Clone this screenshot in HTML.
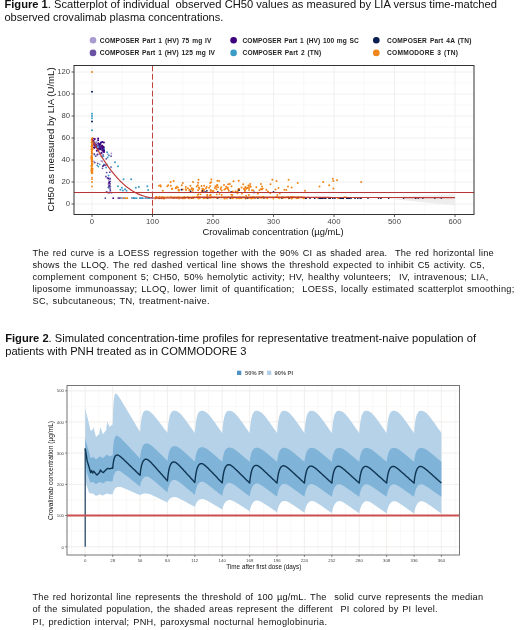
<!DOCTYPE html>
<html lang="en">
<head>
<meta charset="utf-8">
<title>Figure 1 and Figure 2</title>
<style>
html,body{margin:0;padding:0;background:#fff;}
body{width:520px;height:630px;overflow:hidden;position:relative;font-family:"Liberation Sans",sans-serif;}
svg{position:absolute;left:0;top:0;display:block;filter:blur(0.35px);}
text{font-family:"Liberation Sans",sans-serif;}
.cap{font-size:9.2px;fill:#111;}
.ttl{font-size:10.4px;fill:#111;}
.tk{font-size:7.7px;fill:#444;}
.tk2{font-size:4.3px;fill:#444;}
.lg{font-size:6.6px;font-weight:bold;fill:#222;word-spacing:0.8px;}
</style>
</head>
<body>
<svg width="520" height="630" viewBox="0 0 520 630">
<rect x="0" y="0" width="520" height="630" fill="#ffffff"/>
<text class="ttl" x="4.4" y="8.4" textLength="492.6" lengthAdjust="spacingAndGlyphs" xml:space="preserve"><tspan font-weight="bold">Figure 1</tspan>. Scatterplot of individual  observed CH50 values as measured by LIA versus time-matched</text>
<text class="ttl" x="4.4" y="21.3" textLength="219" lengthAdjust="spacingAndGlyphs" xml:space="preserve">observed crovalimab plasma concentrations.</text>
<g id="plot1">
<rect x="74" y="65.5" width="400" height="149" fill="#fff"/>
<line x1="122.2" x2="122.2" y1="65.5" y2="214.5" stroke="#f1f1f1" stroke-width="0.5"/>
<line x1="182.8" x2="182.8" y1="65.5" y2="214.5" stroke="#f1f1f1" stroke-width="0.5"/>
<line x1="243.2" x2="243.2" y1="65.5" y2="214.5" stroke="#f1f1f1" stroke-width="0.5"/>
<line x1="303.8" x2="303.8" y1="65.5" y2="214.5" stroke="#f1f1f1" stroke-width="0.5"/>
<line x1="364.2" x2="364.2" y1="65.5" y2="214.5" stroke="#f1f1f1" stroke-width="0.5"/>
<line x1="424.8" x2="424.8" y1="65.5" y2="214.5" stroke="#f1f1f1" stroke-width="0.5"/>
<line x1="74" x2="474" y1="193" y2="193" stroke="#f1f1f1" stroke-width="0.5"/>
<line x1="74" x2="474" y1="171" y2="171" stroke="#f1f1f1" stroke-width="0.5"/>
<line x1="74" x2="474" y1="149" y2="149" stroke="#f1f1f1" stroke-width="0.5"/>
<line x1="74" x2="474" y1="127" y2="127" stroke="#f1f1f1" stroke-width="0.5"/>
<line x1="74" x2="474" y1="105" y2="105" stroke="#f1f1f1" stroke-width="0.5"/>
<line x1="74" x2="474" y1="83" y2="83" stroke="#f1f1f1" stroke-width="0.5"/>
<line x1="92" x2="92" y1="65.5" y2="214.5" stroke="#ececec" stroke-width="0.8"/>
<line x1="152.5" x2="152.5" y1="65.5" y2="214.5" stroke="#ececec" stroke-width="0.8"/>
<line x1="213" x2="213" y1="65.5" y2="214.5" stroke="#ececec" stroke-width="0.8"/>
<line x1="273.5" x2="273.5" y1="65.5" y2="214.5" stroke="#ececec" stroke-width="0.8"/>
<line x1="334" x2="334" y1="65.5" y2="214.5" stroke="#ececec" stroke-width="0.8"/>
<line x1="394.5" x2="394.5" y1="65.5" y2="214.5" stroke="#ececec" stroke-width="0.8"/>
<line x1="455" x2="455" y1="65.5" y2="214.5" stroke="#ececec" stroke-width="0.8"/>
<line x1="74" x2="474" y1="204" y2="204" stroke="#ececec" stroke-width="0.8"/>
<line x1="74" x2="474" y1="182" y2="182" stroke="#ececec" stroke-width="0.8"/>
<line x1="74" x2="474" y1="160" y2="160" stroke="#ececec" stroke-width="0.8"/>
<line x1="74" x2="474" y1="138" y2="138" stroke="#ececec" stroke-width="0.8"/>
<line x1="74" x2="474" y1="116" y2="116" stroke="#ececec" stroke-width="0.8"/>
<line x1="74" x2="474" y1="94" y2="94" stroke="#ececec" stroke-width="0.8"/>
<line x1="74" x2="474" y1="72" y2="72" stroke="#ececec" stroke-width="0.8"/>
<path d="M376.3 197.4 L455 194.3 L455 205.4 Z" fill="#eeeeee"/>
<circle cx="253.3" cy="190.5" r="1.0" fill="#f08519"/><circle cx="109" cy="186.1" r="0.9" fill="#3f007d"/><circle cx="241.1" cy="198.2" r="0.8" fill="#0b1f52"/><circle cx="91.6" cy="166.2" r="0.9" fill="#f08519"/><circle cx="308.1" cy="197.2" r="0.8" fill="#f08519"/><circle cx="170.8" cy="196.9" r="0.8" fill="#f08519"/><circle cx="298.5" cy="197.7" r="0.8" fill="#f08519"/><circle cx="92.2" cy="152.7" r="0.9" fill="#f08519"/><circle cx="218" cy="187.3" r="1.0" fill="#f08519"/><circle cx="343.2" cy="198.4" r="0.8" fill="#f08519"/><circle cx="251.3" cy="198.5" r="0.8" fill="#f08519"/><circle cx="111.2" cy="167.1" r="0.9" fill="#3a9cc4"/><circle cx="338.4" cy="198.2" r="0.85" fill="#0b1f52"/><circle cx="93.6" cy="138.7" r="1.0" fill="#3f007d"/><circle cx="193.4" cy="198.2" r="0.8" fill="#0b1f52"/><circle cx="266.3" cy="189.8" r="1.0" fill="#f08519"/><circle cx="348.8" cy="198.2" r="0.85" fill="#0b1f52"/><circle cx="103.8" cy="147.6" r="1.0" fill="#3f007d"/><circle cx="231.7" cy="196.9" r="0.8" fill="#f08519"/><circle cx="103.1" cy="148.4" r="1.0" fill="#6a51a3"/><circle cx="139.8" cy="198.2" r="0.85" fill="#a99bd0"/><circle cx="249" cy="188.1" r="1.0" fill="#f08519"/><circle cx="204.6" cy="197.4" r="0.8" fill="#f08519"/><circle cx="107.6" cy="157.5" r="0.9" fill="#3a9cc4"/><circle cx="248.7" cy="185.7" r="1.0" fill="#f08519"/><circle cx="422.9" cy="198.2" r="0.8" fill="#0b1f52"/><circle cx="232.4" cy="198.5" r="0.8" fill="#f08519"/><circle cx="267.9" cy="191.4" r="1.0" fill="#f08519"/><circle cx="110.8" cy="167.3" r="0.9" fill="#6a51a3"/><circle cx="103.9" cy="150.9" r="1.0" fill="#a99bd0"/><circle cx="270.5" cy="184.2" r="1.0" fill="#f08519"/><circle cx="273.2" cy="198.7" r="0.8" fill="#f08519"/><circle cx="107.4" cy="177.9" r="0.9" fill="#6a51a3"/><circle cx="103.3" cy="147.6" r="1.0" fill="#6a51a3"/><circle cx="250.2" cy="184" r="1.0" fill="#f08519"/><circle cx="226.1" cy="186.8" r="1.0" fill="#f08519"/><circle cx="92.1" cy="139.9" r="0.9" fill="#f08519"/><circle cx="225" cy="198.6" r="0.8" fill="#f08519"/><circle cx="242.8" cy="197.4" r="0.8" fill="#f08519"/><circle cx="96.8" cy="150.8" r="1.0" fill="#3f007d"/><circle cx="152.4" cy="198.2" r="0.85" fill="#3a9cc4"/><circle cx="140.8" cy="198.2" r="0.85" fill="#3a9cc4"/><circle cx="101.7" cy="145.4" r="1.0" fill="#6a51a3"/><circle cx="184.9" cy="198.4" r="0.8" fill="#f08519"/><circle cx="252" cy="190.3" r="1.0" fill="#f08519"/><circle cx="236.4" cy="198.4" r="0.8" fill="#f08519"/><circle cx="101.4" cy="156.7" r="0.9" fill="#a99bd0"/><circle cx="290.6" cy="197.1" r="0.8" fill="#f08519"/><circle cx="110.1" cy="183.9" r="0.9" fill="#6a51a3"/><circle cx="155.9" cy="197.1" r="0.8" fill="#f08519"/><circle cx="123.5" cy="179.2" r="1.0" fill="#3a9cc4"/><circle cx="330.1" cy="198.2" r="0.85" fill="#0b1f52"/><circle cx="291.6" cy="187.5" r="1.0" fill="#f08519"/><circle cx="224.1" cy="197.4" r="0.8" fill="#f08519"/><circle cx="237.7" cy="198.1" r="0.8" fill="#f08519"/><circle cx="357.8" cy="198.2" r="0.85" fill="#0b1f52"/><circle cx="98.1" cy="140.3" r="1.0" fill="#3f007d"/><circle cx="284.4" cy="189.7" r="1.0" fill="#f08519"/><circle cx="237.7" cy="191.3" r="1.0" fill="#f08519"/><circle cx="92" cy="130.3" r="1.0" fill="#3a9cc4"/><circle cx="232.4" cy="197.4" r="0.8" fill="#f08519"/><circle cx="92.5" cy="170" r="0.9" fill="#f08519"/><circle cx="380.9" cy="198.2" r="0.8" fill="#0b1f52"/><circle cx="251.9" cy="197.9" r="0.8" fill="#f08519"/><circle cx="102.5" cy="168.3" r="0.9" fill="#6a51a3"/><circle cx="216.2" cy="186.7" r="1.0" fill="#f08519"/><circle cx="107.1" cy="152.3" r="1.0" fill="#3a9cc4"/><circle cx="259" cy="197.1" r="0.8" fill="#f08519"/><circle cx="156.4" cy="197.1" r="0.8" fill="#f08519"/><circle cx="94.6" cy="142.4" r="1.0" fill="#6a51a3"/><circle cx="434.8" cy="198.2" r="0.8" fill="#0b1f52"/><circle cx="297.7" cy="183.1" r="1.0" fill="#f08519"/><circle cx="109.1" cy="186" r="0.9" fill="#6a51a3"/><circle cx="201.7" cy="190.9" r="1.0" fill="#f08519"/><circle cx="291.7" cy="198.6" r="0.8" fill="#f08519"/><circle cx="103.8" cy="150.1" r="1.0" fill="#3f007d"/><circle cx="113.2" cy="198.2" r="0.9" fill="#3f007d"/><circle cx="119.3" cy="198.2" r="0.85" fill="#f08519"/><circle cx="159.3" cy="198.5" r="0.8" fill="#f08519"/><circle cx="132.1" cy="198.2" r="0.85" fill="#3a9cc4"/><circle cx="259.5" cy="190.3" r="1.0" fill="#f08519"/><circle cx="179.2" cy="198.7" r="0.8" fill="#f08519"/><circle cx="92" cy="146" r="0.9" fill="#f08519"/><circle cx="378.6" cy="198.2" r="0.8" fill="#0b1f52"/><circle cx="232.3" cy="195" r="0.9" fill="#f08519"/><circle cx="91.7" cy="161.7" r="0.9" fill="#f08519"/><circle cx="337.8" cy="198.2" r="0.8" fill="#f08519"/><circle cx="220.6" cy="188.9" r="1.0" fill="#f08519"/><circle cx="225.4" cy="197.7" r="0.8" fill="#f08519"/><circle cx="189.2" cy="198.4" r="0.8" fill="#f08519"/><circle cx="233.2" cy="198.1" r="0.8" fill="#f08519"/><circle cx="256.3" cy="187.2" r="1.0" fill="#f08519"/><circle cx="91.8" cy="172.4" r="0.9" fill="#f08519"/><circle cx="200" cy="197.9" r="0.8" fill="#f08519"/><circle cx="242" cy="193.7" r="0.9" fill="#f08519"/><circle cx="159" cy="185.8" r="1.0" fill="#f08519"/><circle cx="102" cy="150.6" r="1.0" fill="#6a51a3"/><circle cx="103.8" cy="165.3" r="0.9" fill="#3f007d"/><circle cx="104" cy="164.3" r="0.9" fill="#3a9cc4"/><circle cx="181.8" cy="185.3" r="1.0" fill="#f08519"/><circle cx="135.8" cy="187.7" r="1.0" fill="#3a9cc4"/><circle cx="93.4" cy="140.7" r="1.0" fill="#a99bd0"/><circle cx="388.7" cy="198.2" r="0.8" fill="#0b1f52"/><circle cx="103" cy="151.7" r="1.0" fill="#6a51a3"/><circle cx="92" cy="151.9" r="0.9" fill="#f08519"/><circle cx="103.4" cy="147.2" r="1.0" fill="#3f007d"/><circle cx="333.4" cy="180.9" r="1.0" fill="#f08519"/><circle cx="246.1" cy="195.6" r="0.9" fill="#f08519"/><circle cx="192.7" cy="190.8" r="1.0" fill="#f08519"/><circle cx="217.8" cy="191.9" r="0.9" fill="#0b1f52"/><circle cx="256.6" cy="197.4" r="0.8" fill="#f08519"/><circle cx="263.9" cy="198.2" r="0.8" fill="#0b1f52"/><circle cx="102.4" cy="152.7" r="1.0" fill="#a99bd0"/><circle cx="207.4" cy="195.5" r="0.9" fill="#f08519"/><circle cx="92.4" cy="140" r="0.9" fill="#f08519"/><circle cx="109.9" cy="188.4" r="0.9" fill="#6a51a3"/><circle cx="92" cy="72" r="1.0" fill="#f08519"/><circle cx="185.2" cy="197.8" r="0.8" fill="#f08519"/><circle cx="91.6" cy="170" r="0.9" fill="#f08519"/><circle cx="101.2" cy="149.7" r="1.0" fill="#6a51a3"/><circle cx="93.9" cy="145.1" r="1.0" fill="#3f007d"/><circle cx="260.9" cy="184" r="1.0" fill="#f08519"/><circle cx="151.8" cy="198.2" r="0.85" fill="#3a9cc4"/><circle cx="233.5" cy="181.3" r="1.0" fill="#f08519"/><circle cx="325.7" cy="198.2" r="0.85" fill="#0b1f52"/><circle cx="368" cy="198.2" r="0.8" fill="#0b1f52"/><circle cx="239.7" cy="198.1" r="0.8" fill="#f08519"/><circle cx="249.6" cy="197.8" r="0.8" fill="#f08519"/><circle cx="92.2" cy="172.3" r="0.9" fill="#f08519"/><circle cx="151.7" cy="198.2" r="0.85" fill="#3a9cc4"/><circle cx="298.2" cy="196.8" r="0.8" fill="#f08519"/><circle cx="91.5" cy="171" r="0.9" fill="#f08519"/><circle cx="227.4" cy="188.1" r="1.0" fill="#f08519"/><circle cx="248" cy="198.4" r="0.8" fill="#f08519"/><circle cx="108.9" cy="155.6" r="1.0" fill="#3a9cc4"/><circle cx="217.3" cy="185.1" r="1.0" fill="#f08519"/><circle cx="296.4" cy="198.2" r="0.8" fill="#f08519"/><circle cx="91.6" cy="156.6" r="0.9" fill="#f08519"/><circle cx="109.3" cy="182" r="0.9" fill="#3f007d"/><circle cx="184" cy="197.9" r="0.8" fill="#f08519"/><circle cx="92" cy="113.8" r="1.0" fill="#3a9cc4"/><circle cx="91.6" cy="146.3" r="0.9" fill="#f08519"/><circle cx="328.8" cy="198.3" r="0.8" fill="#f08519"/><circle cx="283" cy="197.9" r="0.8" fill="#f08519"/><circle cx="146.3" cy="198.2" r="0.85" fill="#3a9cc4"/><circle cx="162.2" cy="197.5" r="0.8" fill="#f08519"/><circle cx="293.2" cy="196.8" r="0.8" fill="#f08519"/><circle cx="93.5" cy="142.9" r="1.0" fill="#6a51a3"/><circle cx="121.4" cy="198.2" r="0.85" fill="#a99bd0"/><circle cx="92" cy="182" r="0.9" fill="#f08519"/><circle cx="92.2" cy="171.7" r="0.9" fill="#f08519"/><circle cx="295.7" cy="197.2" r="0.8" fill="#f08519"/><circle cx="92" cy="91.8" r="1.0" fill="#0b1f52"/><circle cx="122.8" cy="198.2" r="0.85" fill="#a99bd0"/><circle cx="262.2" cy="196.8" r="0.8" fill="#f08519"/><circle cx="229.9" cy="183.9" r="1.0" fill="#f08519"/><circle cx="94" cy="140.1" r="1.0" fill="#a99bd0"/><circle cx="108.5" cy="183.9" r="0.9" fill="#6a51a3"/><circle cx="174.5" cy="198" r="0.8" fill="#f08519"/><circle cx="294.2" cy="197" r="0.8" fill="#f08519"/><circle cx="340.3" cy="198.2" r="0.85" fill="#0b1f52"/><circle cx="119.5" cy="198.2" r="0.85" fill="#3a9cc4"/><circle cx="96.4" cy="143.1" r="1.0" fill="#6a51a3"/><circle cx="91.5" cy="155.9" r="0.9" fill="#f08519"/><circle cx="92" cy="142.5" r="0.9" fill="#f08519"/><circle cx="93.9" cy="161.4" r="0.9" fill="#a99bd0"/><circle cx="109.6" cy="186.2" r="0.9" fill="#3f007d"/><circle cx="205.1" cy="191.9" r="0.9" fill="#0b1f52"/><circle cx="106.1" cy="167.6" r="0.9" fill="#3a9cc4"/><circle cx="167.3" cy="186.2" r="1.0" fill="#f08519"/><circle cx="238.4" cy="189.4" r="1.0" fill="#f08519"/><circle cx="110.3" cy="189.9" r="0.9" fill="#3f007d"/><circle cx="102.9" cy="166.1" r="0.9" fill="#3f007d"/><circle cx="191.5" cy="198.3" r="0.8" fill="#f08519"/><circle cx="92.1" cy="172" r="0.9" fill="#f08519"/><circle cx="151.7" cy="198.2" r="0.85" fill="#3a9cc4"/><circle cx="198.5" cy="194.1" r="0.9" fill="#f08519"/><circle cx="288.6" cy="179.8" r="1.0" fill="#f08519"/><circle cx="97.5" cy="154.6" r="1.0" fill="#3f007d"/><circle cx="193" cy="182" r="1.0" fill="#f08519"/><circle cx="102.1" cy="146.3" r="1.0" fill="#3f007d"/><circle cx="200.6" cy="194.3" r="0.9" fill="#f08519"/><circle cx="103.9" cy="142.5" r="1.0" fill="#3f007d"/><circle cx="94.4" cy="154.7" r="0.9" fill="#3a9cc4"/><circle cx="92.1" cy="164.8" r="0.9" fill="#f08519"/><circle cx="283.6" cy="197.7" r="0.8" fill="#f08519"/><circle cx="241.6" cy="187.6" r="1.0" fill="#f08519"/><circle cx="107.9" cy="154.1" r="0.9" fill="#a99bd0"/><circle cx="161.6" cy="197.2" r="0.8" fill="#f08519"/><circle cx="206.7" cy="198.5" r="0.8" fill="#f08519"/><circle cx="281.1" cy="197.7" r="0.8" fill="#f08519"/><circle cx="193.1" cy="198.3" r="0.8" fill="#f08519"/><circle cx="97.2" cy="147.4" r="1.0" fill="#a99bd0"/><circle cx="289.1" cy="198.1" r="0.8" fill="#f08519"/><circle cx="207.2" cy="194.7" r="0.9" fill="#f08519"/><circle cx="102.3" cy="141.9" r="1.0" fill="#3f007d"/><circle cx="101.1" cy="142.4" r="1.0" fill="#3a9cc4"/><circle cx="119.7" cy="198.2" r="0.85" fill="#f08519"/><circle cx="221.2" cy="187.2" r="1.0" fill="#f08519"/><circle cx="214.9" cy="188.1" r="1.0" fill="#f08519"/><circle cx="347.9" cy="198.2" r="0.85" fill="#0b1f52"/><circle cx="330.8" cy="197.5" r="0.8" fill="#f08519"/><circle cx="100.2" cy="144" r="1.0" fill="#3f007d"/><circle cx="91.9" cy="169.8" r="0.9" fill="#f08519"/><circle cx="286.8" cy="197.2" r="0.8" fill="#f08519"/><circle cx="170.8" cy="185.8" r="1.0" fill="#f08519"/><circle cx="250.7" cy="186.7" r="1.0" fill="#f08519"/><circle cx="227" cy="198.7" r="0.8" fill="#f08519"/><circle cx="124.7" cy="198.2" r="0.85" fill="#3a9cc4"/><circle cx="202.8" cy="191.2" r="1.0" fill="#f08519"/><circle cx="118" cy="186.2" r="1.0" fill="#3a9cc4"/><circle cx="162.8" cy="197.1" r="0.8" fill="#f08519"/><circle cx="277.4" cy="194.9" r="0.9" fill="#f08519"/><circle cx="241.5" cy="197.5" r="0.8" fill="#f08519"/><circle cx="110.3" cy="181.3" r="0.9" fill="#6a51a3"/><circle cx="259.2" cy="197.7" r="0.8" fill="#f08519"/><circle cx="243.2" cy="184.2" r="1.0" fill="#f08519"/><circle cx="92.3" cy="147.4" r="0.9" fill="#f08519"/><circle cx="329.9" cy="198.2" r="0.85" fill="#0b1f52"/><circle cx="262" cy="186.6" r="1.0" fill="#f08519"/><circle cx="118.2" cy="198.2" r="0.85" fill="#a99bd0"/><circle cx="346.7" cy="198.2" r="0.85" fill="#0b1f52"/><circle cx="210.1" cy="186.1" r="1.0" fill="#f08519"/><circle cx="92.2" cy="138.3" r="0.9" fill="#f08519"/><circle cx="380.8" cy="198.2" r="0.8" fill="#0b1f52"/><circle cx="251.6" cy="198" r="0.8" fill="#f08519"/><circle cx="121.9" cy="187.7" r="1.0" fill="#3a9cc4"/><circle cx="205.9" cy="188.6" r="1.0" fill="#f08519"/><circle cx="301.6" cy="197.3" r="0.8" fill="#f08519"/><circle cx="103.9" cy="147.6" r="1.0" fill="#6a51a3"/><circle cx="121.8" cy="198.2" r="0.85" fill="#6a51a3"/><circle cx="418.3" cy="198.2" r="0.8" fill="#0b1f52"/><circle cx="201.5" cy="186.1" r="1.0" fill="#f08519"/><circle cx="91.9" cy="159.8" r="0.9" fill="#f08519"/><circle cx="275.5" cy="189.6" r="1.0" fill="#f08519"/><circle cx="91.6" cy="161.1" r="0.9" fill="#f08519"/><circle cx="98.4" cy="143.5" r="1.0" fill="#3f007d"/><circle cx="286.3" cy="190.1" r="1.0" fill="#f08519"/><circle cx="210.7" cy="190.9" r="1.0" fill="#f08519"/><circle cx="189.2" cy="190.3" r="1.0" fill="#f08519"/><circle cx="91.5" cy="168.8" r="0.9" fill="#f08519"/><circle cx="199.3" cy="188.7" r="1.0" fill="#f08519"/><circle cx="123.4" cy="198.2" r="0.85" fill="#f08519"/><circle cx="106.2" cy="176.5" r="0.9" fill="#a99bd0"/><circle cx="151.1" cy="198.2" r="0.85" fill="#a99bd0"/><circle cx="170.7" cy="182.1" r="1.0" fill="#f08519"/><circle cx="249.1" cy="190" r="1.0" fill="#f08519"/><circle cx="110.2" cy="192.1" r="0.9" fill="#6a51a3"/><circle cx="198.8" cy="196.9" r="0.8" fill="#f08519"/><circle cx="178.9" cy="190.3" r="1.0" fill="#f08519"/><circle cx="221.7" cy="194.9" r="0.9" fill="#f08519"/><circle cx="238.9" cy="198.5" r="0.8" fill="#f08519"/><circle cx="176.7" cy="186.8" r="1.0" fill="#f08519"/><circle cx="145.2" cy="198.2" r="0.85" fill="#3a9cc4"/><circle cx="122.9" cy="190.6" r="1.0" fill="#3a9cc4"/><circle cx="92" cy="173.3" r="0.9" fill="#f08519"/><circle cx="92.4" cy="146" r="0.9" fill="#f08519"/><circle cx="238.8" cy="180.7" r="1.0" fill="#f08519"/><circle cx="109.5" cy="178.8" r="0.9" fill="#a99bd0"/><circle cx="230.8" cy="198.4" r="0.8" fill="#f08519"/><circle cx="241.9" cy="197.7" r="0.8" fill="#f08519"/><circle cx="126.5" cy="190.8" r="1.0" fill="#3a9cc4"/><circle cx="213.5" cy="190.9" r="1.0" fill="#f08519"/><circle cx="92.3" cy="138.5" r="0.9" fill="#f08519"/><circle cx="95.4" cy="145.7" r="1.0" fill="#3f007d"/><circle cx="104" cy="152" r="1.0" fill="#3f007d"/><circle cx="98.1" cy="147.5" r="1.0" fill="#6a51a3"/><circle cx="183.8" cy="198.4" r="0.8" fill="#f08519"/><circle cx="272.3" cy="179.8" r="1.0" fill="#f08519"/><circle cx="247.2" cy="187.9" r="1.0" fill="#f08519"/><circle cx="108.4" cy="178.5" r="0.9" fill="#3f007d"/><circle cx="108.6" cy="175.5" r="0.9" fill="#3a9cc4"/><circle cx="98" cy="145.2" r="1.0" fill="#6a51a3"/><circle cx="202.3" cy="188.7" r="1.0" fill="#f08519"/><circle cx="109.2" cy="192.4" r="0.9" fill="#a99bd0"/><circle cx="303.5" cy="198.4" r="0.8" fill="#f08519"/><circle cx="279.1" cy="198.4" r="0.8" fill="#f08519"/><circle cx="228.8" cy="190.8" r="1.0" fill="#f08519"/><circle cx="216.6" cy="198.1" r="0.8" fill="#f08519"/><circle cx="264.2" cy="197.5" r="0.8" fill="#f08519"/><circle cx="348.1" cy="198.2" r="0.85" fill="#0b1f52"/><circle cx="191.8" cy="189.1" r="1.0" fill="#f08519"/><circle cx="99.7" cy="164.3" r="0.9" fill="#3a9cc4"/><circle cx="192" cy="198.2" r="0.8" fill="#0b1f52"/><circle cx="254.1" cy="192.4" r="0.9" fill="#0b1f52"/><circle cx="343.3" cy="198.2" r="0.85" fill="#0b1f52"/><circle cx="142.8" cy="198.2" r="0.85" fill="#a99bd0"/><circle cx="186" cy="190" r="1.0" fill="#f08519"/><circle cx="163.6" cy="198.7" r="0.8" fill="#f08519"/><circle cx="91.9" cy="150" r="0.9" fill="#f08519"/><circle cx="283.3" cy="197.2" r="0.8" fill="#f08519"/><circle cx="258" cy="193.1" r="0.9" fill="#f08519"/><circle cx="179.1" cy="197.4" r="0.8" fill="#f08519"/><circle cx="296.5" cy="198.5" r="0.8" fill="#f08519"/><circle cx="92.4" cy="138.3" r="0.9" fill="#f08519"/><circle cx="156.7" cy="197.2" r="0.8" fill="#f08519"/><circle cx="91.5" cy="157.5" r="0.9" fill="#f08519"/><circle cx="97.5" cy="146.9" r="1.0" fill="#6a51a3"/><circle cx="163.9" cy="198.4" r="0.8" fill="#f08519"/><circle cx="291.5" cy="197.2" r="0.8" fill="#f08519"/><circle cx="92" cy="118.2" r="1.0" fill="#3a9cc4"/><circle cx="231.2" cy="191.9" r="0.9" fill="#0b1f52"/><circle cx="177.9" cy="197" r="0.8" fill="#f08519"/><circle cx="91.5" cy="170.6" r="0.9" fill="#f08519"/><circle cx="98.7" cy="144.5" r="1.0" fill="#6a51a3"/><circle cx="142.7" cy="198.2" r="0.85" fill="#3a9cc4"/><circle cx="298" cy="198.2" r="0.8" fill="#0b1f52"/><circle cx="289.1" cy="198.2" r="0.8" fill="#f08519"/><circle cx="138.8" cy="186.9" r="1.0" fill="#3a9cc4"/><circle cx="219.5" cy="194.1" r="0.9" fill="#f08519"/><circle cx="91.7" cy="168.4" r="0.9" fill="#f08519"/><circle cx="95.7" cy="156.2" r="0.9" fill="#6a51a3"/><circle cx="216.5" cy="189.2" r="1.0" fill="#f08519"/><circle cx="244.8" cy="190.9" r="1.0" fill="#f08519"/><circle cx="100.1" cy="147" r="1.0" fill="#3f007d"/><circle cx="131.1" cy="179.2" r="1.0" fill="#3a9cc4"/><circle cx="234.7" cy="197.4" r="0.8" fill="#f08519"/><circle cx="109.9" cy="178.4" r="0.9" fill="#6a51a3"/><circle cx="151.8" cy="198.2" r="0.85" fill="#a99bd0"/><circle cx="206.7" cy="186.9" r="1.0" fill="#f08519"/><circle cx="96.7" cy="143.8" r="1.0" fill="#a99bd0"/><circle cx="93.5" cy="144.2" r="1.0" fill="#a99bd0"/><circle cx="92" cy="161" r="0.9" fill="#f08519"/><circle cx="100.8" cy="148.6" r="1.0" fill="#3f007d"/><circle cx="91.8" cy="164.7" r="0.9" fill="#f08519"/><circle cx="174.3" cy="197.2" r="0.8" fill="#f08519"/><circle cx="91.5" cy="150" r="0.9" fill="#f08519"/><circle cx="147.3" cy="186.2" r="1.0" fill="#3a9cc4"/><circle cx="110.7" cy="167.2" r="0.9" fill="#a99bd0"/><circle cx="235.6" cy="191.8" r="1.0" fill="#f08519"/><circle cx="92.2" cy="163.8" r="0.9" fill="#f08519"/><circle cx="209.1" cy="187.8" r="1.0" fill="#f08519"/><circle cx="333.4" cy="188.6" r="1.0" fill="#f08519"/><circle cx="92.4" cy="162.9" r="0.9" fill="#f08519"/><circle cx="96.9" cy="143.8" r="1.0" fill="#a99bd0"/><circle cx="232.3" cy="197.7" r="0.8" fill="#f08519"/><circle cx="292.1" cy="198.3" r="0.8" fill="#f08519"/><circle cx="91.7" cy="155.5" r="0.9" fill="#f08519"/><circle cx="101.3" cy="146.6" r="1.0" fill="#3f007d"/><circle cx="250.4" cy="198.2" r="0.8" fill="#f08519"/><circle cx="217.4" cy="180.8" r="1.0" fill="#f08519"/><circle cx="159" cy="198.4" r="0.8" fill="#f08519"/><circle cx="110.3" cy="186.4" r="0.9" fill="#6a51a3"/><circle cx="92" cy="179.2" r="0.9" fill="#f08519"/><circle cx="103.1" cy="155" r="0.9" fill="#6a51a3"/><circle cx="349.1" cy="198.2" r="0.85" fill="#0b1f52"/><circle cx="239.2" cy="188.9" r="1.0" fill="#f08519"/><circle cx="92.1" cy="142.2" r="0.9" fill="#f08519"/><circle cx="230.2" cy="198.2" r="0.8" fill="#0b1f52"/><circle cx="198.1" cy="182.8" r="1.0" fill="#f08519"/><circle cx="304.1" cy="197.3" r="0.8" fill="#f08519"/><circle cx="96.2" cy="144.7" r="1.0" fill="#3f007d"/><circle cx="99.3" cy="148.5" r="1.0" fill="#6a51a3"/><circle cx="319.1" cy="198.2" r="0.85" fill="#0b1f52"/><circle cx="287.6" cy="197.2" r="0.8" fill="#f08519"/><circle cx="238.7" cy="188.9" r="1.0" fill="#f08519"/><circle cx="178.9" cy="190.6" r="1.0" fill="#f08519"/><circle cx="266.1" cy="197.8" r="0.8" fill="#f08519"/><circle cx="219.1" cy="180.9" r="1.0" fill="#f08519"/><circle cx="120.4" cy="189.7" r="1.0" fill="#3a9cc4"/><circle cx="107.7" cy="192.4" r="0.9" fill="#6a51a3"/><circle cx="278.8" cy="197.5" r="0.8" fill="#f08519"/><circle cx="119.3" cy="198.2" r="0.85" fill="#a99bd0"/><circle cx="172.3" cy="188.7" r="1.0" fill="#f08519"/><circle cx="91.9" cy="146.8" r="0.9" fill="#f08519"/><circle cx="243.8" cy="197.4" r="0.8" fill="#f08519"/><circle cx="91.6" cy="165.3" r="0.9" fill="#f08519"/><circle cx="97" cy="155.5" r="0.9" fill="#a99bd0"/><circle cx="245.4" cy="187.1" r="1.0" fill="#f08519"/><circle cx="205" cy="198.2" r="0.8" fill="#f08519"/><circle cx="100.5" cy="148.3" r="1.0" fill="#3f007d"/><circle cx="91.8" cy="153" r="0.9" fill="#f08519"/><circle cx="210.6" cy="194.7" r="0.9" fill="#f08519"/><circle cx="91.5" cy="142.6" r="0.9" fill="#f08519"/><circle cx="136.7" cy="198.2" r="0.85" fill="#3a9cc4"/><circle cx="441.3" cy="198.2" r="0.8" fill="#0b1f52"/><circle cx="108.3" cy="187.3" r="0.9" fill="#6a51a3"/><circle cx="92.5" cy="168.8" r="0.9" fill="#f08519"/><circle cx="322.4" cy="198.2" r="0.85" fill="#0b1f52"/><circle cx="232.7" cy="191.5" r="1.0" fill="#f08519"/><circle cx="102.8" cy="147.1" r="1.0" fill="#3f007d"/><circle cx="94.5" cy="147.8" r="1.0" fill="#3f007d"/><circle cx="340" cy="198.2" r="0.85" fill="#0b1f52"/><circle cx="257.7" cy="193.7" r="0.9" fill="#f08519"/><circle cx="337" cy="180.3" r="1.0" fill="#f08519"/><circle cx="125.6" cy="198.2" r="0.85" fill="#f08519"/><circle cx="206.8" cy="198.3" r="0.8" fill="#f08519"/><circle cx="91.5" cy="166.8" r="0.9" fill="#f08519"/><circle cx="91.8" cy="142.2" r="0.9" fill="#f08519"/><circle cx="92.5" cy="172.6" r="0.9" fill="#f08519"/><circle cx="173.7" cy="180.9" r="1.0" fill="#f08519"/><circle cx="111.1" cy="156.2" r="0.9" fill="#6a51a3"/><circle cx="97.5" cy="147.7" r="1.0" fill="#6a51a3"/><circle cx="95.9" cy="145.7" r="1.0" fill="#6a51a3"/><circle cx="304.4" cy="198.2" r="0.8" fill="#f08519"/><circle cx="151.9" cy="198.2" r="0.85" fill="#3a9cc4"/><circle cx="97.6" cy="149.4" r="1.0" fill="#6a51a3"/><circle cx="92" cy="138.8" r="0.9" fill="#f08519"/><circle cx="281.9" cy="197.8" r="0.8" fill="#f08519"/><circle cx="111.4" cy="192.7" r="0.9" fill="#6a51a3"/><circle cx="298.3" cy="198.3" r="0.8" fill="#f08519"/><circle cx="94.3" cy="154" r="0.9" fill="#6a51a3"/><circle cx="91.9" cy="153.7" r="0.9" fill="#f08519"/><circle cx="252.6" cy="197" r="0.8" fill="#f08519"/><circle cx="251" cy="197.6" r="0.8" fill="#f08519"/><circle cx="91.7" cy="153.4" r="0.9" fill="#f08519"/><circle cx="97.8" cy="150.6" r="1.0" fill="#6a51a3"/><circle cx="91.5" cy="139.8" r="0.9" fill="#f08519"/><circle cx="263.3" cy="197.5" r="0.8" fill="#f08519"/><circle cx="212.4" cy="190.9" r="1.0" fill="#f08519"/><circle cx="106.7" cy="172.6" r="0.9" fill="#6a51a3"/><circle cx="94" cy="144.2" r="1.0" fill="#3f007d"/><circle cx="119.6" cy="198.2" r="0.85" fill="#3a9cc4"/><circle cx="146.1" cy="198.2" r="0.85" fill="#3a9cc4"/><circle cx="282.8" cy="197.3" r="0.8" fill="#f08519"/><circle cx="211.5" cy="197" r="0.8" fill="#f08519"/><circle cx="182.7" cy="189.5" r="1.0" fill="#f08519"/><circle cx="210.8" cy="197.9" r="0.8" fill="#f08519"/><circle cx="92" cy="186.4" r="0.9" fill="#f08519"/><circle cx="214.6" cy="197.3" r="0.8" fill="#f08519"/><circle cx="92" cy="116" r="1.0" fill="#3a9cc4"/><circle cx="94.1" cy="143.6" r="1.0" fill="#a99bd0"/><circle cx="360.2" cy="198.2" r="0.85" fill="#0b1f52"/><circle cx="176.7" cy="198.1" r="0.8" fill="#f08519"/><circle cx="146.5" cy="198.2" r="0.85" fill="#a99bd0"/><circle cx="104.6" cy="165" r="0.9" fill="#6a51a3"/><circle cx="125" cy="189.3" r="1.0" fill="#3a9cc4"/><circle cx="213.3" cy="197.6" r="0.8" fill="#f08519"/><circle cx="109.8" cy="172.2" r="0.9" fill="#6a51a3"/><circle cx="314.7" cy="198.2" r="0.85" fill="#0b1f52"/><circle cx="197.6" cy="197.2" r="0.8" fill="#f08519"/><circle cx="111.3" cy="153.5" r="0.9" fill="#a99bd0"/><circle cx="338.5" cy="198.3" r="0.8" fill="#f08519"/><circle cx="109.2" cy="188.2" r="0.9" fill="#3a9cc4"/><circle cx="266.6" cy="197.9" r="0.8" fill="#f08519"/><circle cx="184.3" cy="196.8" r="0.8" fill="#f08519"/><circle cx="211.1" cy="182.3" r="1.0" fill="#f08519"/><circle cx="101.1" cy="142.4" r="1.0" fill="#3f007d"/><circle cx="215.5" cy="186.2" r="1.0" fill="#f08519"/><circle cx="120.2" cy="198.2" r="0.85" fill="#f08519"/><circle cx="91.5" cy="158" r="0.9" fill="#f08519"/><circle cx="323.1" cy="182" r="1.0" fill="#f08519"/><circle cx="108.9" cy="192.8" r="0.9" fill="#6a51a3"/><circle cx="102.2" cy="156.4" r="0.9" fill="#3a9cc4"/><circle cx="190.4" cy="185.8" r="1.0" fill="#f08519"/><circle cx="273.5" cy="191.9" r="0.9" fill="#0b1f52"/><circle cx="210" cy="195.6" r="0.9" fill="#f08519"/><circle cx="260.9" cy="197.8" r="0.8" fill="#f08519"/><circle cx="349.5" cy="198.2" r="0.85" fill="#0b1f52"/><circle cx="95.7" cy="144.3" r="1.0" fill="#6a51a3"/><circle cx="235.6" cy="191.4" r="1.0" fill="#f08519"/><circle cx="106.5" cy="191.9" r="0.9" fill="#6a51a3"/><circle cx="109.9" cy="186.8" r="0.9" fill="#6a51a3"/><circle cx="341.8" cy="198.2" r="0.85" fill="#0b1f52"/><circle cx="239" cy="190.2" r="0.9" fill="#0b1f52"/><circle cx="132" cy="198.2" r="0.85" fill="#3a9cc4"/><circle cx="103.1" cy="147.6" r="1.0" fill="#3f007d"/><circle cx="320.7" cy="198.4" r="0.8" fill="#f08519"/><circle cx="332.8" cy="198.2" r="0.85" fill="#0b1f52"/><circle cx="245" cy="190" r="1.0" fill="#f08519"/><circle cx="224" cy="185.1" r="1.0" fill="#f08519"/><circle cx="99.8" cy="145" r="1.0" fill="#3f007d"/><circle cx="101.3" cy="161" r="0.9" fill="#a99bd0"/><circle cx="415.5" cy="198.2" r="0.8" fill="#0b1f52"/><circle cx="291.1" cy="198.5" r="0.8" fill="#f08519"/><circle cx="122.1" cy="198.2" r="0.85" fill="#a99bd0"/><circle cx="120.7" cy="198.2" r="0.85" fill="#a99bd0"/><circle cx="91.9" cy="142.7" r="0.9" fill="#f08519"/><circle cx="121.2" cy="198.2" r="0.85" fill="#f08519"/><circle cx="94.4" cy="143" r="1.0" fill="#6a51a3"/><circle cx="104.1" cy="149" r="1.0" fill="#3a9cc4"/><circle cx="319.5" cy="186.4" r="1.0" fill="#f08519"/><circle cx="244" cy="189" r="1.0" fill="#f08519"/><circle cx="245.5" cy="198.7" r="0.8" fill="#f08519"/><circle cx="127.3" cy="198.2" r="0.85" fill="#f08519"/><circle cx="257.9" cy="198.2" r="0.8" fill="#0b1f52"/><circle cx="253.9" cy="197" r="0.8" fill="#f08519"/><circle cx="227.7" cy="187.4" r="1.0" fill="#f08519"/><circle cx="102.8" cy="148.9" r="1.0" fill="#3f007d"/><circle cx="92.4" cy="168.4" r="0.9" fill="#f08519"/><circle cx="121.1" cy="198.2" r="0.85" fill="#3a9cc4"/><circle cx="216.7" cy="194.3" r="0.9" fill="#f08519"/><circle cx="270.3" cy="193.3" r="0.9" fill="#f08519"/><circle cx="192.2" cy="198.3" r="0.8" fill="#f08519"/><circle cx="92" cy="156.7" r="0.9" fill="#f08519"/><circle cx="185.6" cy="189.2" r="1.0" fill="#f08519"/><circle cx="320.1" cy="198.2" r="0.85" fill="#0b1f52"/><circle cx="305.9" cy="198.2" r="0.85" fill="#0b1f52"/><circle cx="224.4" cy="189.4" r="1.0" fill="#f08519"/><circle cx="279.8" cy="193.4" r="0.9" fill="#f08519"/><circle cx="178.4" cy="189.9" r="1.0" fill="#f08519"/><circle cx="204.1" cy="185.7" r="1.0" fill="#f08519"/><circle cx="261.5" cy="198" r="0.8" fill="#f08519"/><circle cx="159.4" cy="196.8" r="0.8" fill="#f08519"/><circle cx="92.4" cy="149" r="0.9" fill="#f08519"/><circle cx="109.8" cy="183.6" r="0.9" fill="#6a51a3"/><circle cx="103.8" cy="150.9" r="1.0" fill="#3f007d"/><circle cx="101.6" cy="147.5" r="1.0" fill="#6a51a3"/><circle cx="245.8" cy="198.2" r="0.8" fill="#0b1f52"/><circle cx="91.8" cy="168.8" r="0.9" fill="#f08519"/><circle cx="175.7" cy="188.2" r="1.0" fill="#f08519"/><circle cx="96.5" cy="141.8" r="1.0" fill="#a99bd0"/><circle cx="108.8" cy="180.1" r="0.9" fill="#a99bd0"/><circle cx="324" cy="198.3" r="0.8" fill="#f08519"/><circle cx="212.9" cy="197.5" r="0.8" fill="#f08519"/><circle cx="231.2" cy="194.6" r="0.9" fill="#f08519"/><circle cx="289" cy="198.6" r="0.8" fill="#f08519"/><circle cx="151.3" cy="198.2" r="0.85" fill="#a99bd0"/><circle cx="94.9" cy="162.6" r="0.9" fill="#6a51a3"/><circle cx="320.4" cy="198.2" r="0.85" fill="#0b1f52"/><circle cx="103.5" cy="156.3" r="0.9" fill="#3a9cc4"/><circle cx="281.8" cy="197.4" r="0.8" fill="#f08519"/><circle cx="247.5" cy="198.2" r="0.8" fill="#0b1f52"/><circle cx="193.2" cy="188.9" r="1.0" fill="#f08519"/><circle cx="298.3" cy="198.2" r="0.8" fill="#f08519"/><circle cx="93.4" cy="141" r="1.0" fill="#3f007d"/><circle cx="251.3" cy="198.6" r="0.8" fill="#f08519"/><circle cx="189.7" cy="189.7" r="1.0" fill="#f08519"/><circle cx="164.5" cy="198.6" r="0.8" fill="#f08519"/><circle cx="118.4" cy="198.2" r="0.85" fill="#6a51a3"/><circle cx="331.4" cy="197.5" r="0.8" fill="#f08519"/><circle cx="321.6" cy="198.2" r="0.85" fill="#0b1f52"/><circle cx="317.4" cy="197.9" r="0.8" fill="#f08519"/><circle cx="332.8" cy="178.7" r="1.0" fill="#f08519"/><circle cx="288" cy="186.4" r="1.0" fill="#f08519"/><circle cx="233.1" cy="197.7" r="0.8" fill="#f08519"/><circle cx="203.3" cy="189.6" r="1.0" fill="#f08519"/><circle cx="98.2" cy="148.2" r="1.0" fill="#3f007d"/><circle cx="262" cy="189.4" r="1.0" fill="#f08519"/><circle cx="190.6" cy="191.3" r="0.9" fill="#0b1f52"/><circle cx="167.5" cy="197.2" r="0.8" fill="#f08519"/><circle cx="96.1" cy="143.8" r="1.0" fill="#3f007d"/><circle cx="182.8" cy="183.1" r="1.0" fill="#f08519"/><circle cx="210.4" cy="195.3" r="0.9" fill="#f08519"/><circle cx="192.1" cy="188.5" r="1.0" fill="#f08519"/><circle cx="141.7" cy="198.2" r="0.85" fill="#3a9cc4"/><circle cx="188.8" cy="198.4" r="0.8" fill="#f08519"/><circle cx="288.8" cy="197.5" r="0.8" fill="#f08519"/><circle cx="98.9" cy="146.6" r="1.0" fill="#3f007d"/><circle cx="148.2" cy="198.2" r="0.85" fill="#3a9cc4"/><circle cx="139.9" cy="198.2" r="0.85" fill="#3a9cc4"/><circle cx="210.2" cy="183.1" r="1.0" fill="#f08519"/><circle cx="91.7" cy="161" r="0.9" fill="#f08519"/><circle cx="281.8" cy="198.2" r="0.8" fill="#0b1f52"/><circle cx="91.5" cy="171.9" r="0.9" fill="#f08519"/><circle cx="92.4" cy="163.8" r="0.9" fill="#f08519"/><circle cx="92.1" cy="157.7" r="0.9" fill="#f08519"/><circle cx="341" cy="198.2" r="0.85" fill="#0b1f52"/><circle cx="106.9" cy="164.3" r="0.9" fill="#3a9cc4"/><circle cx="276.5" cy="180.9" r="1.0" fill="#f08519"/><circle cx="289.1" cy="198.2" r="0.8" fill="#0b1f52"/><circle cx="134.5" cy="198.2" r="0.85" fill="#a99bd0"/><circle cx="92.4" cy="145" r="0.9" fill="#f08519"/><circle cx="101.3" cy="153.1" r="1.0" fill="#3f007d"/><circle cx="342.3" cy="198.2" r="0.85" fill="#0b1f52"/><circle cx="91.7" cy="156.7" r="0.9" fill="#f08519"/><circle cx="98.3" cy="166.6" r="0.9" fill="#3a9cc4"/><circle cx="329.2" cy="185.3" r="1.0" fill="#f08519"/><circle cx="148.1" cy="190" r="1.0" fill="#3a9cc4"/><circle cx="127.3" cy="198.2" r="0.85" fill="#f08519"/><circle cx="92.2" cy="158.8" r="0.9" fill="#f08519"/><circle cx="300" cy="197.5" r="0.8" fill="#f08519"/><circle cx="98.5" cy="143.4" r="1.0" fill="#3f007d"/><circle cx="239.6" cy="197.3" r="0.8" fill="#f08519"/><circle cx="110.1" cy="178.9" r="0.9" fill="#6a51a3"/><circle cx="92" cy="177.6" r="0.9" fill="#f08519"/><circle cx="103.1" cy="150.5" r="1.0" fill="#3f007d"/><circle cx="92.1" cy="159.9" r="0.9" fill="#f08519"/><circle cx="91.5" cy="158.6" r="0.9" fill="#f08519"/><circle cx="225.7" cy="188.7" r="1.0" fill="#f08519"/><circle cx="92.2" cy="160.8" r="0.9" fill="#f08519"/><circle cx="98.8" cy="148.7" r="1.0" fill="#3f007d"/><circle cx="193.1" cy="197.3" r="0.8" fill="#f08519"/><circle cx="168.2" cy="185.3" r="1.0" fill="#f08519"/><circle cx="155.1" cy="198.2" r="0.8" fill="#f08519"/><circle cx="94.1" cy="147.4" r="1.0" fill="#3f007d"/><circle cx="245" cy="197.8" r="0.8" fill="#f08519"/><circle cx="228.2" cy="189.3" r="1.0" fill="#f08519"/><circle cx="324" cy="198.2" r="0.85" fill="#0b1f52"/><circle cx="96.2" cy="143.2" r="1.0" fill="#a99bd0"/><circle cx="210.8" cy="190" r="1.0" fill="#f08519"/><circle cx="91.7" cy="153.2" r="0.9" fill="#f08519"/><circle cx="92.1" cy="168.9" r="0.9" fill="#f08519"/><circle cx="197.7" cy="194.9" r="0.9" fill="#f08519"/><circle cx="187.9" cy="188.2" r="1.0" fill="#f08519"/><circle cx="194.6" cy="197.2" r="0.8" fill="#f08519"/><circle cx="181.5" cy="189.7" r="0.9" fill="#0b1f52"/><circle cx="198.9" cy="198.7" r="0.8" fill="#f08519"/><circle cx="155.3" cy="198.7" r="0.8" fill="#f08519"/><circle cx="203.5" cy="198.5" r="0.8" fill="#f08519"/><circle cx="403.6" cy="198.2" r="0.8" fill="#0b1f52"/><circle cx="92.5" cy="149.2" r="0.9" fill="#f08519"/><circle cx="285.1" cy="197.8" r="0.8" fill="#f08519"/><circle cx="228.2" cy="196.8" r="0.8" fill="#f08519"/><circle cx="248.9" cy="195" r="0.9" fill="#f08519"/><circle cx="91.9" cy="163.4" r="0.9" fill="#f08519"/><circle cx="260.9" cy="189.1" r="1.0" fill="#f08519"/><circle cx="91.5" cy="148.8" r="0.9" fill="#f08519"/><circle cx="199.1" cy="198.2" r="0.8" fill="#f08519"/><circle cx="106.2" cy="158.8" r="0.9" fill="#6a51a3"/><circle cx="133.7" cy="198.2" r="0.85" fill="#3a9cc4"/><circle cx="105.6" cy="165.4" r="0.9" fill="#6a51a3"/><circle cx="241.4" cy="198.4" r="0.8" fill="#f08519"/><circle cx="134" cy="198.2" r="0.85" fill="#3a9cc4"/><circle cx="206.9" cy="190.8" r="0.9" fill="#0b1f52"/><circle cx="198.1" cy="190.2" r="1.0" fill="#f08519"/><circle cx="91.8" cy="144.7" r="0.9" fill="#f08519"/><circle cx="224.2" cy="198.7" r="0.8" fill="#f08519"/><circle cx="185.8" cy="186.9" r="1.0" fill="#f08519"/><circle cx="92.4" cy="164" r="0.9" fill="#f08519"/><circle cx="102.4" cy="145.7" r="1.0" fill="#3f007d"/><circle cx="98.1" cy="138.4" r="1.0" fill="#3f007d"/><circle cx="99.2" cy="149.6" r="1.0" fill="#6a51a3"/><circle cx="361.2" cy="182" r="1.0" fill="#f08519"/><circle cx="91.6" cy="170" r="0.9" fill="#f08519"/><circle cx="109.6" cy="189.3" r="0.9" fill="#a99bd0"/><circle cx="91.8" cy="166.2" r="0.9" fill="#f08519"/><circle cx="196.6" cy="197" r="0.8" fill="#f08519"/><circle cx="95" cy="143.9" r="1.0" fill="#6a51a3"/><circle cx="160.8" cy="186.6" r="1.0" fill="#f08519"/><circle cx="251.7" cy="198.1" r="0.8" fill="#f08519"/><circle cx="226.3" cy="197.7" r="0.8" fill="#f08519"/><circle cx="91.6" cy="151.3" r="0.9" fill="#f08519"/><circle cx="173" cy="197.9" r="0.8" fill="#f08519"/><circle cx="161.2" cy="198.6" r="0.8" fill="#f08519"/><circle cx="97.2" cy="165.3" r="0.9" fill="#3a9cc4"/><circle cx="91.8" cy="159.2" r="0.9" fill="#f08519"/><circle cx="254.7" cy="198.2" r="0.8" fill="#0b1f52"/><circle cx="97.9" cy="147" r="1.0" fill="#a99bd0"/><circle cx="135.1" cy="198.2" r="0.85" fill="#3a9cc4"/><circle cx="184.4" cy="198" r="0.8" fill="#f08519"/><circle cx="91.6" cy="165.9" r="0.9" fill="#f08519"/><circle cx="302.3" cy="197.5" r="0.8" fill="#f08519"/><circle cx="207.2" cy="196.9" r="0.8" fill="#f08519"/><circle cx="250.3" cy="186.3" r="1.0" fill="#f08519"/><circle cx="351" cy="198.2" r="0.85" fill="#0b1f52"/><circle cx="203.3" cy="189.3" r="1.0" fill="#f08519"/><circle cx="91.5" cy="146.4" r="0.9" fill="#f08519"/><circle cx="91.8" cy="173.2" r="0.9" fill="#f08519"/><circle cx="263.3" cy="196.8" r="0.8" fill="#f08519"/><circle cx="100" cy="149" r="1.0" fill="#3f007d"/><circle cx="148" cy="198.2" r="0.85" fill="#3a9cc4"/><circle cx="221.7" cy="190.4" r="1.0" fill="#f08519"/><circle cx="97.7" cy="163.3" r="0.9" fill="#6a51a3"/><circle cx="310" cy="198.2" r="0.85" fill="#0b1f52"/><circle cx="104" cy="150.6" r="1.0" fill="#3f007d"/><circle cx="202.7" cy="190.8" r="0.9" fill="#0b1f52"/><circle cx="105.8" cy="176.6" r="0.9" fill="#6a51a3"/><circle cx="175.9" cy="187.9" r="1.0" fill="#f08519"/><circle cx="288.6" cy="196.9" r="0.8" fill="#f08519"/><circle cx="119.2" cy="198.2" r="0.85" fill="#6a51a3"/><circle cx="253.1" cy="198.4" r="0.8" fill="#f08519"/><circle cx="231.5" cy="186.3" r="1.0" fill="#f08519"/><circle cx="171.8" cy="188.8" r="1.0" fill="#f08519"/><circle cx="246.6" cy="197.4" r="0.8" fill="#f08519"/><circle cx="196.7" cy="186.6" r="1.0" fill="#f08519"/><circle cx="149.4" cy="198.2" r="0.85" fill="#3a9cc4"/><circle cx="133.8" cy="198.2" r="0.85" fill="#3a9cc4"/><circle cx="91.5" cy="159.1" r="0.9" fill="#f08519"/><circle cx="329.1" cy="198.2" r="0.85" fill="#0b1f52"/><circle cx="98" cy="146.8" r="1.0" fill="#3a9cc4"/><circle cx="247.6" cy="187.7" r="1.0" fill="#f08519"/><circle cx="197.8" cy="185.2" r="1.0" fill="#f08519"/><circle cx="237.4" cy="193.3" r="0.9" fill="#f08519"/><circle cx="121.6" cy="198.2" r="0.85" fill="#a99bd0"/><circle cx="102.4" cy="161.5" r="0.9" fill="#a99bd0"/><circle cx="279" cy="197.6" r="0.8" fill="#f08519"/><circle cx="239.5" cy="198.4" r="0.8" fill="#f08519"/><circle cx="162.8" cy="190.8" r="1.0" fill="#f08519"/><circle cx="204" cy="189.9" r="1.0" fill="#f08519"/><circle cx="198.9" cy="187.4" r="1.0" fill="#f08519"/><circle cx="355" cy="198.2" r="0.85" fill="#0b1f52"/><circle cx="244.3" cy="188.5" r="1.0" fill="#f08519"/><circle cx="93.3" cy="143.1" r="1.0" fill="#6a51a3"/><circle cx="210" cy="198" r="0.8" fill="#f08519"/><circle cx="248.5" cy="185.6" r="1.0" fill="#f08519"/><circle cx="109.3" cy="182.5" r="0.9" fill="#3f007d"/><circle cx="92" cy="150.2" r="0.9" fill="#f08519"/><circle cx="217.8" cy="198.2" r="0.8" fill="#0b1f52"/><circle cx="276.6" cy="196.8" r="0.8" fill="#f08519"/><circle cx="207.9" cy="198.2" r="0.8" fill="#0b1f52"/><circle cx="292.5" cy="196.8" r="0.8" fill="#f08519"/><circle cx="92" cy="121.5" r="1.0" fill="#0b1f52"/><circle cx="191.7" cy="188.2" r="1.0" fill="#f08519"/><circle cx="92.3" cy="142.9" r="0.9" fill="#f08519"/><circle cx="193.5" cy="197.3" r="0.8" fill="#f08519"/><circle cx="92.3" cy="148.9" r="0.9" fill="#f08519"/><circle cx="92.3" cy="153.5" r="0.9" fill="#f08519"/><circle cx="361" cy="198.2" r="0.85" fill="#0b1f52"/><circle cx="344.2" cy="197.1" r="0.8" fill="#f08519"/><circle cx="211.4" cy="179.5" r="1.0" fill="#f08519"/><circle cx="345.9" cy="197.1" r="0.8" fill="#f08519"/><circle cx="93.8" cy="146.1" r="1.0" fill="#a99bd0"/><circle cx="92" cy="169" r="0.9" fill="#f08519"/><circle cx="415.8" cy="198.2" r="0.8" fill="#0b1f52"/><circle cx="262.7" cy="188.4" r="1.0" fill="#f08519"/><circle cx="278.5" cy="188" r="1.0" fill="#f08519"/><circle cx="178" cy="187.6" r="1.0" fill="#f08519"/><circle cx="305" cy="190.8" r="1.0" fill="#f08519"/><circle cx="131.9" cy="198.2" r="0.85" fill="#a99bd0"/><circle cx="305.9" cy="198.2" r="0.85" fill="#0b1f52"/><circle cx="246.7" cy="197.7" r="0.8" fill="#f08519"/><circle cx="277.1" cy="196.9" r="0.8" fill="#f08519"/><circle cx="198.5" cy="179.8" r="1.0" fill="#f08519"/><circle cx="217.1" cy="185.3" r="1.0" fill="#f08519"/><circle cx="96.1" cy="146.9" r="1.0" fill="#3f007d"/><circle cx="91.9" cy="144.3" r="0.9" fill="#f08519"/><circle cx="187.8" cy="196.8" r="0.8" fill="#f08519"/><circle cx="291.6" cy="197.2" r="0.8" fill="#f08519"/><circle cx="100" cy="144.2" r="1.0" fill="#3f007d"/><circle cx="163.9" cy="197.5" r="0.8" fill="#f08519"/><circle cx="115" cy="162.2" r="1.0" fill="#3a9cc4"/><circle cx="182.3" cy="198.4" r="0.8" fill="#f08519"/><circle cx="94.8" cy="138.9" r="1.0" fill="#3f007d"/><circle cx="228.1" cy="184.2" r="1.0" fill="#f08519"/><circle cx="254.6" cy="198.2" r="0.8" fill="#f08519"/><circle cx="92.4" cy="145.3" r="0.9" fill="#f08519"/><circle cx="267.4" cy="198.6" r="0.8" fill="#f08519"/><circle cx="291.7" cy="198.5" r="0.8" fill="#f08519"/><circle cx="160.4" cy="185.3" r="1.0" fill="#f08519"/><circle cx="94.7" cy="145.6" r="1.0" fill="#3f007d"/><circle cx="118" cy="166.2" r="1.0" fill="#3a9cc4"/><circle cx="246.2" cy="188.7" r="1.0" fill="#f08519"/><circle cx="105.3" cy="198.2" r="0.9" fill="#6a51a3"/><circle cx="102.2" cy="148" r="1.0" fill="#3f007d"/><circle cx="197.6" cy="197.9" r="0.8" fill="#f08519"/><circle cx="100.3" cy="154" r="1.0" fill="#6a51a3"/><circle cx="334.9" cy="198.2" r="0.85" fill="#0b1f52"/>
<line x1="74" x2="474" y1="192.5" y2="192.5" stroke="#b8353a" stroke-width="1"/>
<line x1="152.5" x2="152.5" y1="65.5" y2="214.5" stroke="#c0443c" stroke-width="1" stroke-dasharray="5.8 2.6"/>
<line x1="154.9" x2="303.8" y1="197.4" y2="197.4" stroke="#f08519" stroke-width="1.6" opacity="0.85"/>
<path d="M92 139.1 L94.4 143.8 L96.8 148.3 L99.3 152.6 L101.7 156.7 L104.1 160.5 L106.5 164.2 L108.9 167.6 L111.4 170.9 L113.8 173.9 L116.2 176.7 L118.6 179.4 L121 181.8 L123.5 184.1 L125.9 186.2 L128.3 188.1 L130.7 189.8 L133.1 191.3 L135.6 192.7 L138 193.9 L140.4 194.9 L142.8 195.8 L145.2 196.5 L147.7 197.1 L150.1 197.5 L152.5 197.8 L154.9 198 L157.3 198.1 L159.8 198.1 L162.2 198.1 L164.6 198 L167 198 L169.4 198 L171.9 197.9 L174.3 197.9 L176.7 197.9 L179.1 197.8 L181.5 197.8 L184 197.7 L186.4 197.7 L188.8 197.6 L191.2 197.6 L193.6 197.5 L196.1 197.5 L198.5 197.4 L200.9 197.4 L203.3 197.4 L205.7 197.3 L208.2 197.3 L210.6 197.3 L213 197.3 L215.4 197.3 L217.8 197.3 L220.3 197.3 L222.7 197.3 L225.1 197.3 L227.5 197.3 L229.9 197.3 L232.4 197.3 L234.8 197.3 L237.2 197.3 L239.6 197.3 L242 197.3 L244.5 197.3 L246.9 197.3 L249.3 197.3 L251.7 197.3 L254.1 197.3 L256.6 197.3 L259 197.4 L261.4 197.4 L263.8 197.4 L266.2 197.4 L268.7 197.4 L271.1 197.4 L273.5 197.4 L275.9 197.4 L278.3 197.4 L280.8 197.4 L283.2 197.4 L285.6 197.4 L288 197.4 L290.4 197.4 L292.9 197.4 L295.3 197.4 L297.7 197.4 L300.1 197.4 L302.5 197.4 L305 197.4 L307.4 197.4 L309.8 197.4 L312.2 197.4 L314.6 197.4 L317.1 197.4 L319.5 197.4 L321.9 197.4 L324.3 197.4 L326.7 197.4 L329.2 197.4 L331.6 197.5 L334 197.5 L336.4 197.5 L338.8 197.5 L341.3 197.5 L343.7 197.5 L346.1 197.5 L348.5 197.5 L350.9 197.5 L353.4 197.5 L355.8 197.5 L358.2 197.5 L360.6 197.5 L363 197.5 L365.5 197.5 L367.9 197.5 L370.3 197.5 L372.7 197.5 L375.1 197.5 L377.6 197.5 L380 197.5 L382.4 197.5 L384.8 197.5 L387.2 197.5 L389.7 197.5 L392.1 197.5 L394.5 197.5 L396.9 197.5 L399.3 197.5 L401.8 197.5 L404.2 197.6 L406.6 197.6 L409 197.6 L411.4 197.6 L413.9 197.6 L416.3 197.6 L418.7 197.6 L421.1 197.6 L423.5 197.6 L426 197.6 L428.4 197.6 L430.8 197.6 L433.2 197.6 L435.6 197.6 L438.1 197.6 L440.5 197.6 L442.9 197.6 L445.3 197.6 L447.7 197.6 L450.2 197.6 L452.6 197.6 L455 197.6" fill="none" stroke="#bd3a36" stroke-width="1.2"/>
<rect x="74" y="65.5" width="400" height="149" fill="none" stroke="#333" stroke-width="1"/>
<line x1="92" x2="92" y1="214.5" y2="217" stroke="#333" stroke-width="0.8"/>
<text class="tk" x="92" y="223.9" text-anchor="middle">0</text>
<line x1="152.5" x2="152.5" y1="214.5" y2="217" stroke="#333" stroke-width="0.8"/>
<text class="tk" x="152.5" y="223.9" text-anchor="middle">100</text>
<line x1="213" x2="213" y1="214.5" y2="217" stroke="#333" stroke-width="0.8"/>
<text class="tk" x="213" y="223.9" text-anchor="middle">200</text>
<line x1="273.5" x2="273.5" y1="214.5" y2="217" stroke="#333" stroke-width="0.8"/>
<text class="tk" x="273.5" y="223.9" text-anchor="middle">300</text>
<line x1="334" x2="334" y1="214.5" y2="217" stroke="#333" stroke-width="0.8"/>
<text class="tk" x="334" y="223.9" text-anchor="middle">400</text>
<line x1="394.5" x2="394.5" y1="214.5" y2="217" stroke="#333" stroke-width="0.8"/>
<text class="tk" x="394.5" y="223.9" text-anchor="middle">500</text>
<line x1="455" x2="455" y1="214.5" y2="217" stroke="#333" stroke-width="0.8"/>
<text class="tk" x="455" y="223.9" text-anchor="middle">600</text>
<line x1="71.5" x2="74" y1="204" y2="204" stroke="#333" stroke-width="0.8"/>
<text class="tk" x="70" y="206.4" text-anchor="end">0</text>
<line x1="71.5" x2="74" y1="182" y2="182" stroke="#333" stroke-width="0.8"/>
<text class="tk" x="70" y="184.4" text-anchor="end">20</text>
<line x1="71.5" x2="74" y1="160" y2="160" stroke="#333" stroke-width="0.8"/>
<text class="tk" x="70" y="162.4" text-anchor="end">40</text>
<line x1="71.5" x2="74" y1="138" y2="138" stroke="#333" stroke-width="0.8"/>
<text class="tk" x="70" y="140.4" text-anchor="end">60</text>
<line x1="71.5" x2="74" y1="116" y2="116" stroke="#333" stroke-width="0.8"/>
<text class="tk" x="70" y="118.4" text-anchor="end">80</text>
<line x1="71.5" x2="74" y1="94" y2="94" stroke="#333" stroke-width="0.8"/>
<text class="tk" x="70" y="96.4" text-anchor="end">100</text>
<line x1="71.5" x2="74" y1="72" y2="72" stroke="#333" stroke-width="0.8"/>
<text class="tk" x="70" y="74.4" text-anchor="end">120</text>
<text x="202.4" y="234.8" font-size="9.4" fill="#111" textLength="141.3" lengthAdjust="spacingAndGlyphs">Crovalimab concentration (µg/mL)</text>
<text transform="translate(54 211.4) rotate(-90)" font-size="9.5" fill="#111" textLength="144" lengthAdjust="spacingAndGlyphs">CH50 as measured by LIA (U/mL)</text>
<circle cx="93" cy="40.3" r="3.3" fill="#a99bd0"/>
<text class="lg" x="99.8" y="42.8" textLength="111.7" lengthAdjust="spacing" xml:space="preserve">COMPOSER Part 1 (HV) 75 mg IV</text>
<circle cx="93" cy="52.9" r="3.3" fill="#6a51a3"/>
<text class="lg" x="99.8" y="55.4" textLength="115.2" lengthAdjust="spacing" xml:space="preserve">COMPOSER Part 1 (HV) 125 mg IV</text>
<circle cx="233.6" cy="40.3" r="3.3" fill="#3f007d"/>
<text class="lg" x="242.5" y="42.8" textLength="116.3" lengthAdjust="spacing" xml:space="preserve">COMPOSER Part 1 (HV) 100 mg SC</text>
<circle cx="233.6" cy="52.9" r="3.3" fill="#3a9cc4"/>
<text class="lg" x="242.5" y="55.4" textLength="78.6" lengthAdjust="spacing" xml:space="preserve">COMPOSER Part 2 (TN)</text>
<circle cx="376.3" cy="40.3" r="3.3" fill="#0b1f52"/>
<text class="lg" x="387.1" y="42.8" textLength="84.3" lengthAdjust="spacing" xml:space="preserve">COMPOSER Part 4A (TN)</text>
<circle cx="376.3" cy="52.9" r="3.3" fill="#f08519"/>
<text class="lg" x="387.1" y="55.4" textLength="70.8" lengthAdjust="spacing" xml:space="preserve">COMMODORE 3 (TN)</text>
</g>
<text class="cap" transform="translate(32.5 255.8) scale(1.0 1)" style="word-spacing:1.10px" textLength="461.2" lengthAdjust="spacing" xml:space="preserve">The red curve is a LOESS regression together with the 90% CI as shaded area.  The red horizontal line</text>
<text class="cap" transform="translate(32.5 267.9) scale(1.0 1)" style="word-spacing:1.10px" textLength="452" lengthAdjust="spacing" xml:space="preserve">shows the LLOQ. The red dashed vertical line shows the threshold expected to inhibit C5 activity. C5,</text>
<text class="cap" transform="translate(32.5 280) scale(1.0 1)" style="word-spacing:1.10px" textLength="455.7" lengthAdjust="spacing" xml:space="preserve">complement component 5; CH50, 50% hemolytic activity; HV, healthy volunteers;  IV, intravenous; LIA,</text>
<text class="cap" transform="translate(32.5 292) scale(1.0 1)" style="word-spacing:1.10px" textLength="481.7" lengthAdjust="spacing" xml:space="preserve">liposome immunoassay; LLOQ, lower limit of quantification;  LOESS, locally estimated scatterplot smoothing;</text>
<text class="cap" transform="translate(32.5 304.1) scale(1.0 1)" style="word-spacing:1.10px" textLength="177" lengthAdjust="spacing" xml:space="preserve">SC, subcutaneous; TN, treatment-naive.</text>
<text class="ttl" x="5.2" y="342.1" textLength="470.8" lengthAdjust="spacingAndGlyphs" xml:space="preserve"><tspan font-weight="bold">Figure 2</tspan>. Simulated concentration-time profiles for representative treatment-naive population of</text>
<text class="ttl" x="5.2" y="354.7" textLength="241.3" lengthAdjust="spacingAndGlyphs" xml:space="preserve">patients with PNH treated as in COMMODORE 3</text>
<g id="plot2">
<rect x="67" y="385.5" width="392.5" height="169.5" fill="#fff"/>
<line x1="71.5" x2="71.5" y1="385.5" y2="555" stroke="#f3f0ee" stroke-width="0.5"/>
<line x1="99" x2="99" y1="385.5" y2="555" stroke="#f3f0ee" stroke-width="0.5"/>
<line x1="126.3" x2="126.3" y1="385.5" y2="555" stroke="#f3f0ee" stroke-width="0.5"/>
<line x1="153.8" x2="153.8" y1="385.5" y2="555" stroke="#f3f0ee" stroke-width="0.5"/>
<line x1="181.1" x2="181.1" y1="385.5" y2="555" stroke="#f3f0ee" stroke-width="0.5"/>
<line x1="208.6" x2="208.6" y1="385.5" y2="555" stroke="#f3f0ee" stroke-width="0.5"/>
<line x1="235.9" x2="235.9" y1="385.5" y2="555" stroke="#f3f0ee" stroke-width="0.5"/>
<line x1="263.4" x2="263.4" y1="385.5" y2="555" stroke="#f3f0ee" stroke-width="0.5"/>
<line x1="290.8" x2="290.8" y1="385.5" y2="555" stroke="#f3f0ee" stroke-width="0.5"/>
<line x1="318.1" x2="318.1" y1="385.5" y2="555" stroke="#f3f0ee" stroke-width="0.5"/>
<line x1="345.6" x2="345.6" y1="385.5" y2="555" stroke="#f3f0ee" stroke-width="0.5"/>
<line x1="372.9" x2="372.9" y1="385.5" y2="555" stroke="#f3f0ee" stroke-width="0.5"/>
<line x1="400.3" x2="400.3" y1="385.5" y2="555" stroke="#f3f0ee" stroke-width="0.5"/>
<line x1="427.8" x2="427.8" y1="385.5" y2="555" stroke="#f3f0ee" stroke-width="0.5"/>
<line x1="455.1" x2="455.1" y1="385.5" y2="555" stroke="#f3f0ee" stroke-width="0.5"/>
<line x1="67" x2="459.5" y1="531.1" y2="531.1" stroke="#f3f0ee" stroke-width="0.5"/>
<line x1="67" x2="459.5" y1="499.9" y2="499.9" stroke="#f3f0ee" stroke-width="0.5"/>
<line x1="67" x2="459.5" y1="468.8" y2="468.8" stroke="#f3f0ee" stroke-width="0.5"/>
<line x1="67" x2="459.5" y1="437.6" y2="437.6" stroke="#f3f0ee" stroke-width="0.5"/>
<line x1="67" x2="459.5" y1="406.4" y2="406.4" stroke="#f3f0ee" stroke-width="0.5"/>
<line x1="85.2" x2="85.2" y1="385.5" y2="555" stroke="#eeeae7" stroke-width="0.8"/>
<line x1="112.7" x2="112.7" y1="385.5" y2="555" stroke="#eeeae7" stroke-width="0.8"/>
<line x1="140.1" x2="140.1" y1="385.5" y2="555" stroke="#eeeae7" stroke-width="0.8"/>
<line x1="167.4" x2="167.4" y1="385.5" y2="555" stroke="#eeeae7" stroke-width="0.8"/>
<line x1="194.8" x2="194.8" y1="385.5" y2="555" stroke="#eeeae7" stroke-width="0.8"/>
<line x1="222.2" x2="222.2" y1="385.5" y2="555" stroke="#eeeae7" stroke-width="0.8"/>
<line x1="249.7" x2="249.7" y1="385.5" y2="555" stroke="#eeeae7" stroke-width="0.8"/>
<line x1="277" x2="277" y1="385.5" y2="555" stroke="#eeeae7" stroke-width="0.8"/>
<line x1="304.4" x2="304.4" y1="385.5" y2="555" stroke="#eeeae7" stroke-width="0.8"/>
<line x1="331.9" x2="331.9" y1="385.5" y2="555" stroke="#eeeae7" stroke-width="0.8"/>
<line x1="359.2" x2="359.2" y1="385.5" y2="555" stroke="#eeeae7" stroke-width="0.8"/>
<line x1="386.6" x2="386.6" y1="385.5" y2="555" stroke="#eeeae7" stroke-width="0.8"/>
<line x1="414.1" x2="414.1" y1="385.5" y2="555" stroke="#eeeae7" stroke-width="0.8"/>
<line x1="441.4" x2="441.4" y1="385.5" y2="555" stroke="#eeeae7" stroke-width="0.8"/>
<line x1="67" x2="459.5" y1="546.8" y2="546.8" stroke="#eeeae7" stroke-width="0.8"/>
<line x1="67" x2="459.5" y1="515.5" y2="515.5" stroke="#eeeae7" stroke-width="0.8"/>
<line x1="67" x2="459.5" y1="484.4" y2="484.4" stroke="#eeeae7" stroke-width="0.8"/>
<line x1="67" x2="459.5" y1="453.1" y2="453.1" stroke="#eeeae7" stroke-width="0.8"/>
<line x1="67" x2="459.5" y1="421.9" y2="421.9" stroke="#eeeae7" stroke-width="0.8"/>
<line x1="67" x2="459.5" y1="390.8" y2="390.8" stroke="#eeeae7" stroke-width="0.8"/>
<path d="M85.2 407.9 L85.7 410.2 L86.2 412.6 L86.7 414.6 L87.2 416.6 L87.7 418.6 L88.2 420.6 L88.7 422.6 L89.2 424.7 L89.7 426.7 L90.1 428.7 L90.6 430.7 L91.1 430.5 L91.6 430.4 L92.1 430.2 L92.6 430.1 L93.1 428.1 L93.6 427.7 L94.1 429.5 L94.5 431.4 L95 433.2 L95.5 435.1 L96 436.9 L96.5 436.5 L97 436 L97.5 435.6 L98 435.1 L98.5 434.7 L99 434.3 L99.4 433.8 L99.9 429.3 L100.4 427.2 L100.9 428.7 L101.4 430.1 L101.9 431.5 L102.4 433 L102.9 434.4 L103.4 433.8 L103.8 433.1 L104.3 432.4 L104.8 431.8 L105.3 431.1 L105.8 430.4 L106.3 429.8 L106.8 424.5 L107.3 421.7 L107.8 422.8 L108.2 423.8 L108.7 424.9 L109.2 425.9 L109.7 426.9 L110.2 426.5 L110.7 426 L111.2 425.5 L111.7 425.1 L112.2 424.8 L112.7 424.4 L113.1 410.2 L113.6 402.1 L114.1 397.7 L114.6 395.2 L115.1 394.1 L115.6 393.6 L116.1 393.6 L116.6 393.9 L117.1 394.3 L117.5 394.9 L118 395.5 L118.5 396.2 L119 396.9 L119.5 397.7 L120 398.5 L120.5 399.2 L121 400 L121.5 400.8 L121.9 401.6 L122.4 402.5 L122.9 403.3 L123.4 404.1 L123.9 404.9 L124.4 405.7 L124.9 406.5 L125.4 407.4 L125.9 408.2 L126.3 409 L126.8 409.8 L127.3 410.6 L127.8 411.4 L128.3 412.3 L128.8 413.1 L129.3 413.9 L129.8 414.7 L130.3 415.5 L130.8 416.4 L131.2 417.2 L131.7 418 L132.2 418.8 L132.7 419.6 L133.2 420.5 L133.7 421.3 L134.2 422.1 L134.7 422.9 L135.2 423.7 L135.6 424.6 L136.1 425.4 L136.6 426.2 L137.1 427 L137.6 427.8 L138.1 428.7 L138.6 429.5 L139.1 430.3 L139.6 431.1 L140.1 431.9 L140.5 426 L141 421.6 L141.5 418.4 L142 416 L142.5 414.3 L143 413 L143.5 412.1 L144 411.5 L144.5 411 L144.9 410.7 L145.4 410.5 L145.9 410.4 L146.4 410.4 L146.9 410.4 L147.4 410.5 L147.9 410.7 L148.4 410.8 L148.9 411.1 L149.3 411.3 L149.8 411.6 L150.3 412 L150.8 412.4 L151.3 412.8 L151.8 413.2 L152.3 413.7 L152.8 414.2 L153.3 414.7 L153.8 415.2 L154.2 415.8 L154.7 416.4 L155.2 417 L155.7 417.6 L156.2 418.2 L156.7 418.8 L157.2 419.4 L157.7 420 L158.2 420.7 L158.6 421.3 L159.1 421.9 L159.6 422.6 L160.1 423.2 L160.6 423.9 L161.1 424.5 L161.6 425.2 L162.1 425.8 L162.6 426.5 L163 427.1 L163.5 427.8 L164 428.4 L164.5 429 L165 429.7 L165.5 430.3 L166 431 L166.5 431.6 L167 432.3 L167.4 432.9 L167.9 427.2 L168.4 422.9 L168.9 419.7 L169.4 417.2 L169.9 415.4 L170.4 414 L170.9 413 L171.4 412.3 L171.9 411.7 L172.3 411.3 L172.8 411 L173.3 410.9 L173.8 410.8 L174.3 410.7 L174.8 410.7 L175.3 410.8 L175.8 410.9 L176.3 411 L176.7 411.2 L177.2 411.5 L177.7 411.7 L178.2 412 L178.7 412.4 L179.2 412.8 L179.7 413.2 L180.2 413.6 L180.7 414.1 L181.1 414.6 L181.6 415.1 L182.1 415.7 L182.6 416.3 L183.1 416.9 L183.6 417.5 L184.1 418.1 L184.6 418.8 L185.1 419.4 L185.6 420.1 L186 420.7 L186.5 421.4 L187 422.1 L187.5 422.7 L188 423.4 L188.5 424.1 L189 424.8 L189.5 425.5 L190 426.2 L190.4 426.9 L190.9 427.6 L191.4 428.3 L191.9 429 L192.4 429.7 L192.9 430.3 L193.4 431 L193.9 431.7 L194.4 432.4 L194.8 433.1 L195.3 427.4 L195.8 423.1 L196.3 419.9 L196.8 417.4 L197.3 415.6 L197.8 414.2 L198.3 413.1 L198.8 412.4 L199.3 411.8 L199.7 411.4 L200.2 411.1 L200.7 410.9 L201.2 410.8 L201.7 410.7 L202.2 410.7 L202.7 410.8 L203.2 410.9 L203.7 411 L204.1 411.2 L204.6 411.4 L205.1 411.7 L205.6 411.9 L206.1 412.3 L206.6 412.6 L207.1 413 L207.6 413.5 L208.1 414 L208.6 414.5 L209 415 L209.5 415.5 L210 416.1 L210.5 416.7 L211 417.3 L211.5 417.9 L212 418.6 L212.5 419.2 L213 419.9 L213.4 420.6 L213.9 421.3 L214.4 421.9 L214.9 422.6 L215.4 423.3 L215.9 424 L216.4 424.7 L216.9 425.4 L217.4 426.1 L217.8 426.8 L218.3 427.5 L218.8 428.2 L219.3 428.9 L219.8 429.6 L220.3 430.3 L220.8 431 L221.3 431.8 L221.8 432.5 L222.2 433.2 L222.7 427.5 L223.2 423.2 L223.7 419.9 L224.2 417.5 L224.7 415.6 L225.2 414.2 L225.7 413.2 L226.2 412.4 L226.7 411.8 L227.1 411.4 L227.6 411.1 L228.1 410.9 L228.6 410.8 L229.1 410.7 L229.6 410.7 L230.1 410.8 L230.6 410.9 L231.1 411 L231.5 411.2 L232 411.4 L232.5 411.6 L233 411.9 L233.5 412.3 L234 412.6 L234.5 413 L235 413.5 L235.5 413.9 L235.9 414.4 L236.4 414.9 L236.9 415.5 L237.4 416.1 L237.9 416.7 L238.4 417.3 L238.9 417.9 L239.4 418.6 L239.9 419.2 L240.4 419.9 L240.8 420.5 L241.3 421.2 L241.8 421.9 L242.3 422.6 L242.8 423.3 L243.3 424 L243.8 424.7 L244.3 425.4 L244.8 426.1 L245.2 426.8 L245.7 427.5 L246.2 428.2 L246.7 428.9 L247.2 429.6 L247.7 430.3 L248.2 431 L248.7 431.8 L249.2 432.5 L249.7 433.2 L250.1 427.5 L250.6 423.2 L251.1 419.9 L251.6 417.5 L252.1 415.6 L252.6 414.2 L253.1 413.2 L253.6 412.4 L254.1 411.8 L254.5 411.4 L255 411.1 L255.5 410.9 L256 410.8 L256.5 410.7 L257 410.7 L257.5 410.8 L258 410.9 L258.5 411 L258.9 411.2 L259.4 411.4 L259.9 411.6 L260.4 411.9 L260.9 412.2 L261.4 412.6 L261.9 413 L262.4 413.4 L262.9 413.9 L263.4 414.4 L263.8 414.9 L264.3 415.5 L264.8 416.1 L265.3 416.7 L265.8 417.3 L266.3 417.9 L266.8 418.6 L267.3 419.2 L267.8 419.9 L268.2 420.5 L268.7 421.2 L269.2 421.9 L269.7 422.6 L270.2 423.3 L270.7 424 L271.2 424.7 L271.7 425.4 L272.2 426.1 L272.6 426.8 L273.1 427.5 L273.6 428.2 L274.1 428.9 L274.6 429.6 L275.1 430.3 L275.6 431 L276.1 431.8 L276.6 432.5 L277 433.2 L277.5 427.5 L278 423.2 L278.5 419.9 L279 417.5 L279.5 415.6 L280 414.2 L280.5 413.2 L281 412.4 L281.5 411.8 L281.9 411.4 L282.4 411.1 L282.9 410.9 L283.4 410.8 L283.9 410.7 L284.4 410.7 L284.9 410.8 L285.4 410.9 L285.9 411 L286.3 411.2 L286.8 411.4 L287.3 411.6 L287.8 411.9 L288.3 412.2 L288.8 412.6 L289.3 413 L289.8 413.4 L290.3 413.9 L290.8 414.4 L291.2 414.9 L291.7 415.5 L292.2 416.1 L292.7 416.7 L293.2 417.3 L293.7 417.9 L294.2 418.6 L294.7 419.2 L295.2 419.9 L295.6 420.5 L296.1 421.2 L296.6 421.9 L297.1 422.6 L297.6 423.3 L298.1 424 L298.6 424.7 L299.1 425.4 L299.6 426.1 L300 426.8 L300.5 427.5 L301 428.2 L301.5 428.9 L302 429.6 L302.5 430.3 L303 431 L303.5 431.8 L304 432.5 L304.4 433.2 L304.9 427.5 L305.4 423.2 L305.9 419.9 L306.4 417.5 L306.9 415.6 L307.4 414.2 L307.9 413.2 L308.4 412.4 L308.9 411.8 L309.3 411.4 L309.8 411.1 L310.3 410.9 L310.8 410.8 L311.3 410.7 L311.8 410.7 L312.3 410.8 L312.8 410.9 L313.3 411 L313.7 411.2 L314.2 411.4 L314.7 411.6 L315.2 411.9 L315.7 412.2 L316.2 412.6 L316.7 413 L317.2 413.4 L317.7 413.9 L318.1 414.4 L318.6 414.9 L319.1 415.5 L319.6 416.1 L320.1 416.7 L320.6 417.3 L321.1 417.9 L321.6 418.6 L322.1 419.2 L322.6 419.9 L323 420.5 L323.5 421.2 L324 421.9 L324.5 422.6 L325 423.3 L325.5 424 L326 424.7 L326.5 425.4 L327 426.1 L327.4 426.8 L327.9 427.5 L328.4 428.2 L328.9 428.9 L329.4 429.6 L329.9 430.3 L330.4 431 L330.9 431.8 L331.4 432.5 L331.9 433.2 L332.3 427.5 L332.8 423.2 L333.3 419.9 L333.8 417.5 L334.3 415.6 L334.8 414.2 L335.3 413.2 L335.8 412.4 L336.3 411.8 L336.7 411.4 L337.2 411.1 L337.7 410.9 L338.2 410.8 L338.7 410.7 L339.2 410.7 L339.7 410.8 L340.2 410.9 L340.7 411 L341.1 411.2 L341.6 411.4 L342.1 411.6 L342.6 411.9 L343.1 412.2 L343.6 412.6 L344.1 413 L344.6 413.4 L345.1 413.9 L345.6 414.4 L346 414.9 L346.5 415.5 L347 416.1 L347.5 416.7 L348 417.3 L348.5 417.9 L349 418.6 L349.5 419.2 L350 419.9 L350.4 420.5 L350.9 421.2 L351.4 421.9 L351.9 422.6 L352.4 423.3 L352.9 424 L353.4 424.7 L353.9 425.4 L354.4 426.1 L354.8 426.8 L355.3 427.5 L355.8 428.2 L356.3 428.9 L356.8 429.6 L357.3 430.3 L357.8 431 L358.3 431.8 L358.8 432.5 L359.2 433.2 L359.7 427.5 L360.2 423.2 L360.7 419.9 L361.2 417.5 L361.7 415.6 L362.2 414.2 L362.7 413.2 L363.2 412.4 L363.7 411.8 L364.1 411.4 L364.6 411.1 L365.1 410.9 L365.6 410.8 L366.1 410.7 L366.6 410.7 L367.1 410.8 L367.6 410.9 L368.1 411 L368.5 411.2 L369 411.4 L369.5 411.6 L370 411.9 L370.5 412.2 L371 412.6 L371.5 413 L372 413.4 L372.5 413.9 L372.9 414.4 L373.4 414.9 L373.9 415.5 L374.4 416.1 L374.9 416.7 L375.4 417.3 L375.9 417.9 L376.4 418.6 L376.9 419.2 L377.4 419.9 L377.8 420.5 L378.3 421.2 L378.8 421.9 L379.3 422.6 L379.8 423.3 L380.3 424 L380.8 424.7 L381.3 425.4 L381.8 426.1 L382.2 426.8 L382.7 427.5 L383.2 428.2 L383.7 428.9 L384.2 429.6 L384.7 430.3 L385.2 431 L385.7 431.8 L386.2 432.5 L386.6 433.2 L387.1 427.5 L387.6 423.2 L388.1 419.9 L388.6 417.5 L389.1 415.6 L389.6 414.2 L390.1 413.2 L390.6 412.4 L391.1 411.8 L391.5 411.4 L392 411.1 L392.5 410.9 L393 410.8 L393.5 410.7 L394 410.7 L394.5 410.8 L395 410.9 L395.5 411 L395.9 411.2 L396.4 411.4 L396.9 411.6 L397.4 411.9 L397.9 412.2 L398.4 412.6 L398.9 413 L399.4 413.4 L399.9 413.9 L400.3 414.4 L400.8 414.9 L401.3 415.5 L401.8 416.1 L402.3 416.7 L402.8 417.3 L403.3 417.9 L403.8 418.6 L404.3 419.2 L404.8 419.9 L405.2 420.5 L405.7 421.2 L406.2 421.9 L406.7 422.6 L407.2 423.3 L407.7 424 L408.2 424.7 L408.7 425.4 L409.2 426.1 L409.6 426.8 L410.1 427.5 L410.6 428.2 L411.1 428.9 L411.6 429.6 L412.1 430.3 L412.6 431 L413.1 431.8 L413.6 432.5 L414.1 433.2 L414.5 427.5 L415 423.2 L415.5 419.9 L416 417.5 L416.5 415.6 L417 414.2 L417.5 413.2 L418 412.4 L418.5 411.8 L418.9 411.4 L419.4 411.1 L419.9 410.9 L420.4 410.8 L420.9 410.7 L421.4 410.7 L421.9 410.8 L422.4 410.9 L422.9 411 L423.3 411.2 L423.8 411.4 L424.3 411.6 L424.8 411.9 L425.3 412.2 L425.8 412.6 L426.3 413 L426.8 413.4 L427.3 413.9 L427.8 414.4 L428.2 414.9 L428.7 415.5 L429.2 416.1 L429.7 416.7 L430.2 417.3 L430.7 417.9 L431.2 418.6 L431.7 419.2 L432.2 419.9 L432.6 420.5 L433.1 421.2 L433.6 421.9 L434.1 422.6 L434.6 423.3 L435.1 424 L435.6 424.7 L436.1 425.4 L436.6 426.1 L437 426.8 L437.5 427.5 L438 428.2 L438.5 428.9 L439 429.6 L439.5 430.3 L440 431 L440.5 431.8 L441 432.5 L441.4 433.2 L441.4 513.6 L441 513.3 L440.5 512.9 L440 512.6 L439.5 512.2 L439 511.9 L438.5 511.5 L438 511.2 L437.5 510.8 L437 510.5 L436.6 510.1 L436.1 509.8 L435.6 509.4 L435.1 509.1 L434.6 508.7 L434.1 508.4 L433.6 508 L433.1 507.7 L432.6 507.3 L432.2 507 L431.7 506.6 L431.2 506.3 L430.7 505.9 L430.2 505.6 L429.7 505.2 L429.2 504.9 L428.7 504.6 L428.2 504.2 L427.8 503.9 L427.3 503.6 L426.8 503.3 L426.3 502.9 L425.8 502.7 L425.3 502.4 L424.8 502.1 L424.3 501.9 L423.8 501.7 L423.3 501.5 L422.9 501.3 L422.4 501.2 L421.9 501.2 L421.4 501.2 L420.9 501.2 L420.4 501.3 L419.9 501.5 L419.4 501.7 L418.9 502.1 L418.5 502.4 L418 502.9 L417.5 503.5 L417 504.3 L416.5 505.2 L416 506.3 L415.5 507.6 L415 509.2 L414.5 511.2 L414.1 513.6 L413.6 513.2 L413.1 512.9 L412.6 512.5 L412.1 512.2 L411.6 511.8 L411.1 511.5 L410.6 511.1 L410.1 510.8 L409.6 510.4 L409.2 510.1 L408.7 509.7 L408.2 509.4 L407.7 509 L407.2 508.7 L406.7 508.3 L406.2 508 L405.7 507.6 L405.2 507.3 L404.8 506.9 L404.3 506.6 L403.8 506.2 L403.3 505.9 L402.8 505.6 L402.3 505.2 L401.8 504.9 L401.3 504.5 L400.8 504.2 L400.3 503.9 L399.9 503.6 L399.4 503.2 L398.9 502.9 L398.4 502.6 L397.9 502.4 L397.4 502.1 L396.9 501.9 L396.4 501.6 L395.9 501.5 L395.5 501.3 L395 501.2 L394.5 501.2 L394 501.2 L393.5 501.2 L393 501.3 L392.5 501.5 L392 501.7 L391.5 502 L391.1 502.4 L390.6 502.9 L390.1 503.5 L389.6 504.2 L389.1 505.1 L388.6 506.2 L388.1 507.6 L387.6 509.2 L387.1 511.1 L386.6 513.5 L386.2 513.1 L385.7 512.8 L385.2 512.4 L384.7 512.1 L384.2 511.7 L383.7 511.4 L383.2 511 L382.7 510.7 L382.2 510.3 L381.8 510 L381.3 509.7 L380.8 509.3 L380.3 509 L379.8 508.6 L379.3 508.3 L378.8 507.9 L378.3 507.6 L377.8 507.2 L377.4 506.9 L376.9 506.5 L376.4 506.2 L375.9 505.9 L375.4 505.5 L374.9 505.2 L374.4 504.8 L373.9 504.5 L373.4 504.2 L372.9 503.8 L372.5 503.5 L372 503.2 L371.5 502.9 L371 502.6 L370.5 502.3 L370 502.1 L369.5 501.8 L369 501.6 L368.5 501.4 L368.1 501.3 L367.6 501.2 L367.1 501.2 L366.6 501.2 L366.1 501.2 L365.6 501.3 L365.1 501.5 L364.6 501.7 L364.1 502 L363.7 502.4 L363.2 502.9 L362.7 503.5 L362.2 504.2 L361.7 505.1 L361.2 506.2 L360.7 507.5 L360.2 509.1 L359.7 511 L359.2 513.3 L358.8 513 L358.3 512.7 L357.8 512.3 L357.3 512 L356.8 511.6 L356.3 511.3 L355.8 510.9 L355.3 510.6 L354.8 510.2 L354.4 509.9 L353.9 509.6 L353.4 509.2 L352.9 508.9 L352.4 508.5 L351.9 508.2 L351.4 507.8 L350.9 507.5 L350.4 507.1 L350 506.8 L349.5 506.5 L349 506.1 L348.5 505.8 L348 505.4 L347.5 505.1 L347 504.8 L346.5 504.4 L346 504.1 L345.6 503.8 L345.1 503.5 L344.6 503.2 L344.1 502.8 L343.6 502.6 L343.1 502.3 L342.6 502 L342.1 501.8 L341.6 501.6 L341.1 501.4 L340.7 501.3 L340.2 501.2 L339.7 501.1 L339.2 501.1 L338.7 501.2 L338.2 501.3 L337.7 501.4 L337.2 501.6 L336.7 501.9 L336.3 502.3 L335.8 502.8 L335.3 503.4 L334.8 504.1 L334.3 505 L333.8 506 L333.3 507.3 L332.8 508.9 L332.3 510.8 L331.9 513.1 L331.4 512.8 L330.9 512.4 L330.4 512.1 L329.9 511.8 L329.4 511.4 L328.9 511.1 L328.4 510.7 L327.9 510.4 L327.4 510.1 L327 509.7 L326.5 509.4 L326 509 L325.5 508.7 L325 508.4 L324.5 508 L324 507.7 L323.5 507.3 L323 507 L322.6 506.7 L322.1 506.3 L321.6 506 L321.1 505.6 L320.6 505.3 L320.1 505 L319.6 504.6 L319.1 504.3 L318.6 504 L318.1 503.7 L317.7 503.4 L317.2 503 L316.7 502.7 L316.2 502.5 L315.7 502.2 L315.2 501.9 L314.7 501.7 L314.2 501.5 L313.7 501.3 L313.3 501.2 L312.8 501.1 L312.3 501 L311.8 501 L311.3 501.1 L310.8 501.2 L310.3 501.3 L309.8 501.5 L309.3 501.8 L308.9 502.2 L308.4 502.7 L307.9 503.2 L307.4 503.9 L306.9 504.8 L306.4 505.8 L305.9 507.1 L305.4 508.6 L304.9 510.5 L304.4 512.8 L304 512.4 L303.5 512.1 L303 511.8 L302.5 511.4 L302 511.1 L301.5 510.8 L301 510.4 L300.5 510.1 L300 509.8 L299.6 509.4 L299.1 509.1 L298.6 508.7 L298.1 508.4 L297.6 508.1 L297.1 507.7 L296.6 507.4 L296.1 507.1 L295.6 506.7 L295.2 506.4 L294.7 506.1 L294.2 505.8 L293.7 505.4 L293.2 505.1 L292.7 504.8 L292.2 504.4 L291.7 504.1 L291.2 503.8 L290.8 503.5 L290.3 503.2 L289.8 502.9 L289.3 502.6 L288.8 502.3 L288.3 502 L287.8 501.8 L287.3 501.5 L286.8 501.3 L286.3 501.2 L285.9 501 L285.4 500.9 L284.9 500.9 L284.4 500.9 L283.9 500.9 L283.4 501 L282.9 501.2 L282.4 501.4 L281.9 501.6 L281.5 502 L281 502.4 L280.5 503 L280 503.7 L279.5 504.5 L279 505.5 L278.5 506.7 L278 508.2 L277.5 510 L277 512.2 L276.6 511.8 L276.1 511.5 L275.6 511.2 L275.1 510.9 L274.6 510.5 L274.1 510.2 L273.6 509.9 L273.1 509.6 L272.6 509.2 L272.2 508.9 L271.7 508.6 L271.2 508.3 L270.7 507.9 L270.2 507.6 L269.7 507.3 L269.2 507 L268.7 506.6 L268.2 506.3 L267.8 506 L267.3 505.7 L266.8 505.3 L266.3 505 L265.8 504.7 L265.3 504.4 L264.8 504.1 L264.3 503.8 L263.8 503.4 L263.4 503.1 L262.9 502.8 L262.4 502.5 L261.9 502.2 L261.4 502 L260.9 501.7 L260.4 501.5 L259.9 501.2 L259.4 501 L258.9 500.9 L258.5 500.7 L258 500.6 L257.5 500.6 L257 500.6 L256.5 500.6 L256 500.7 L255.5 500.8 L255 501 L254.5 501.3 L254.1 501.6 L253.6 502 L253.1 502.6 L252.6 503.2 L252.1 504 L251.6 504.9 L251.1 506.1 L250.6 507.5 L250.1 509.1 L249.7 511.2 L249.2 510.9 L248.7 510.6 L248.2 510.2 L247.7 509.9 L247.2 509.6 L246.7 509.3 L246.2 509 L245.7 508.7 L245.2 508.4 L244.8 508.1 L244.3 507.8 L243.8 507.4 L243.3 507.1 L242.8 506.8 L242.3 506.5 L241.8 506.2 L241.3 505.9 L240.8 505.6 L240.4 505.3 L239.9 505 L239.4 504.6 L238.9 504.3 L238.4 504 L237.9 503.7 L237.4 503.4 L236.9 503.1 L236.4 502.8 L235.9 502.5 L235.5 502.2 L235 501.9 L234.5 501.7 L234 501.4 L233.5 501.1 L233 500.9 L232.5 500.7 L232 500.5 L231.5 500.3 L231.1 500.2 L230.6 500.1 L230.1 500 L229.6 500 L229.1 500 L228.6 500.1 L228.1 500.2 L227.6 500.4 L227.1 500.7 L226.7 501 L226.2 501.3 L225.7 501.8 L225.2 502.4 L224.7 503.1 L224.2 503.9 L223.7 504.9 L223.2 506.2 L222.7 507.7 L222.2 509.6 L221.8 509.3 L221.3 509 L220.8 508.7 L220.3 508.4 L219.8 508.1 L219.3 507.8 L218.8 507.5 L218.3 507.2 L217.8 506.9 L217.4 506.6 L216.9 506.3 L216.4 506 L215.9 505.8 L215.4 505.5 L214.9 505.2 L214.4 504.9 L213.9 504.6 L213.4 504.3 L213 504 L212.5 503.7 L212 503.4 L211.5 503.1 L211 502.8 L210.5 502.5 L210 502.3 L209.5 502 L209 501.7 L208.6 501.4 L208.1 501.1 L207.6 500.9 L207.1 500.6 L206.6 500.4 L206.1 500.1 L205.6 499.9 L205.1 499.7 L204.6 499.5 L204.1 499.3 L203.7 499.2 L203.2 499.1 L202.7 499 L202.2 499 L201.7 499 L201.2 499.1 L200.7 499.2 L200.2 499.3 L199.7 499.5 L199.3 499.7 L198.8 500 L198.3 500.4 L197.8 500.9 L197.3 501.5 L196.8 502.2 L196.3 503.1 L195.8 504.1 L195.3 505.4 L194.8 506.9 L194.4 506.6 L193.9 506.4 L193.4 506.1 L192.9 505.8 L192.4 505.6 L191.9 505.3 L191.4 505 L190.9 504.8 L190.4 504.5 L190 504.2 L189.5 503.9 L189 503.7 L188.5 503.4 L188 503.1 L187.5 502.9 L187 502.6 L186.5 502.3 L186 502.1 L185.6 501.8 L185.1 501.5 L184.6 501.3 L184.1 501 L183.6 500.7 L183.1 500.5 L182.6 500.2 L182.1 499.9 L181.6 499.7 L181.1 499.4 L180.7 499.2 L180.2 498.9 L179.7 498.7 L179.2 498.4 L178.7 498.2 L178.2 498 L177.7 497.8 L177.2 497.6 L176.7 497.5 L176.3 497.3 L175.8 497.2 L175.3 497.1 L174.8 497.1 L174.3 497.1 L173.8 497.1 L173.3 497.2 L172.8 497.2 L172.3 497.4 L171.9 497.5 L171.4 497.7 L170.9 498 L170.4 498.3 L169.9 498.7 L169.4 499.2 L168.9 499.8 L168.4 500.5 L167.9 501.4 L167.4 502.5 L167 502.3 L166.5 502 L166 501.8 L165.5 501.6 L165 501.3 L164.5 501.1 L164 500.9 L163.5 500.6 L163 500.4 L162.6 500.1 L162.1 499.9 L161.6 499.7 L161.1 499.4 L160.6 499.2 L160.1 499 L159.6 498.7 L159.1 498.5 L158.6 498.3 L158.2 498 L157.7 497.8 L157.2 497.6 L156.7 497.3 L156.2 497.1 L155.7 496.8 L155.2 496.6 L154.7 496.4 L154.2 496.2 L153.8 495.9 L153.3 495.7 L152.8 495.5 L152.3 495.2 L151.8 495 L151.3 494.8 L150.8 494.6 L150.3 494.4 L149.8 494.3 L149.3 494.1 L148.9 493.9 L148.4 493.8 L147.9 493.7 L147.4 493.6 L146.9 493.6 L146.4 493.5 L145.9 493.5 L145.4 493.5 L144.9 493.5 L144.5 493.6 L144 493.6 L143.5 493.7 L143 493.8 L142.5 494 L142 494.1 L141.5 494.3 L141 494.6 L140.5 494.9 L140.1 495.3 L139.6 495.1 L139.1 494.8 L138.6 494.6 L138.1 494.4 L137.6 494.2 L137.1 494 L136.6 493.7 L136.1 493.5 L135.6 493.3 L135.2 493.1 L134.7 492.9 L134.2 492.7 L133.7 492.4 L133.2 492.2 L132.7 492 L132.2 491.8 L131.7 491.6 L131.2 491.4 L130.8 491.1 L130.3 490.9 L129.8 490.7 L129.3 490.5 L128.8 490.3 L128.3 490.1 L127.8 489.8 L127.3 489.6 L126.8 489.4 L126.3 489.2 L125.9 489 L125.4 488.8 L124.9 488.6 L124.4 488.4 L123.9 488.2 L123.4 488 L122.9 487.8 L122.4 487.6 L121.9 487.4 L121.5 487.3 L121 487.1 L120.5 487 L120 486.9 L119.5 486.9 L119 486.8 L118.5 486.9 L118 486.9 L117.5 487 L117.1 487.1 L116.6 487.4 L116.1 487.6 L115.6 488 L115.1 488.5 L114.6 489.2 L114.1 490 L113.6 491.1 L113.1 492.5 L112.7 494.3 L112.2 494.3 L111.7 494.3 L111.2 494.3 L110.7 494.3 L110.2 494.3 L109.7 494.3 L109.2 494.2 L108.7 494 L108.2 493.9 L107.8 493.7 L107.3 493.6 L106.8 493.4 L106.3 493.7 L105.8 493.9 L105.3 494.2 L104.8 494.5 L104.3 494.8 L103.8 495 L103.4 495.3 L102.9 495.6 L102.4 495.4 L101.9 495.2 L101.4 495 L100.9 494.8 L100.4 494.5 L99.9 494.3 L99.4 494.5 L99 494.7 L98.5 494.9 L98 495.1 L97.5 495.3 L97 495.5 L96.5 495.7 L96 495.9 L95.5 495.5 L95 495.2 L94.5 494.8 L94.1 494.4 L93.6 494.1 L93.1 493.7 L92.6 493.6 L92.1 493.6 L91.6 493.5 L91.1 493.4 L90.6 493.3 L90.1 493.2 L89.7 493.2 L89.2 493.1 L88.7 491.6 L88.2 490.2 L87.7 488.7 L87.2 487.3 L86.7 485.8 L86.2 484.4 L85.7 479.7 L85.2 475 Z" fill="#b5d2e8"/>
<path d="M85.2 437.6 L85.7 439.9 L86.2 442.2 L86.7 444 L87.2 445.8 L87.7 447.5 L88.2 449.3 L88.7 451.1 L89.2 452.8 L89.7 454.6 L90.1 456.4 L90.6 458.1 L91.1 457.9 L91.6 457.6 L92.1 457.4 L92.6 457.1 L93.1 456.9 L93.6 457.3 L94.1 457.7 L94.5 458.1 L95 458.6 L95.5 459 L96 459.4 L96.5 459 L97 458.6 L97.5 458.2 L98 457.8 L98.5 457.4 L99 457.1 L99.4 456.7 L99.9 456.3 L100.4 456.6 L100.9 456.9 L101.4 457.2 L101.9 457.5 L102.4 457.8 L102.9 458.1 L103.4 457.7 L103.8 457.3 L104.3 456.9 L104.8 456.4 L105.3 456 L105.8 455.6 L106.3 455.1 L106.8 454.7 L107.3 455 L107.8 455.2 L108.2 455.5 L108.7 455.8 L109.2 456 L109.7 456.3 L110.2 456.1 L110.7 456 L111.2 455.8 L111.7 455.6 L112.2 455.5 L112.7 455.3 L113.1 448.1 L113.6 443.3 L114.1 440.2 L114.6 438.2 L115.1 437 L115.6 436.2 L116.1 435.8 L116.6 435.7 L117.1 435.7 L117.5 435.8 L118 436.1 L118.5 436.4 L119 436.8 L119.5 437.2 L120 437.6 L120.5 438.1 L121 438.5 L121.5 439 L121.9 439.5 L122.4 440 L122.9 440.5 L123.4 441 L123.9 441.5 L124.4 442 L124.9 442.5 L125.4 443 L125.9 443.6 L126.3 444.1 L126.8 444.6 L127.3 445.1 L127.8 445.6 L128.3 446.1 L128.8 446.6 L129.3 447.1 L129.8 447.7 L130.3 448.2 L130.8 448.7 L131.2 449.2 L131.7 449.7 L132.2 450.2 L132.7 450.7 L133.2 451.3 L133.7 451.8 L134.2 452.3 L134.7 452.8 L135.2 453.3 L135.6 453.8 L136.1 454.3 L136.6 454.9 L137.1 455.4 L137.6 455.9 L138.1 456.4 L138.6 456.9 L139.1 457.4 L139.6 457.9 L140.1 458.5 L140.5 454.6 L141 451.7 L141.5 449.5 L142 447.9 L142.5 446.6 L143 445.6 L143.5 444.9 L144 444.4 L144.5 444 L144.9 443.7 L145.4 443.5 L145.9 443.4 L146.4 443.4 L146.9 443.4 L147.4 443.5 L147.9 443.6 L148.4 443.7 L148.9 443.9 L149.3 444.2 L149.8 444.4 L150.3 444.7 L150.8 445.1 L151.3 445.4 L151.8 445.8 L152.3 446.2 L152.8 446.6 L153.3 447 L153.8 447.5 L154.2 447.9 L154.7 448.4 L155.2 448.9 L155.7 449.3 L156.2 449.8 L156.7 450.3 L157.2 450.7 L157.7 451.2 L158.2 451.7 L158.6 452.2 L159.1 452.7 L159.6 453.1 L160.1 453.6 L160.6 454.1 L161.1 454.6 L161.6 455.1 L162.1 455.6 L162.6 456.1 L163 456.5 L163.5 457 L164 457.5 L164.5 458 L165 458.5 L165.5 459 L166 459.4 L166.5 459.9 L167 460.4 L167.4 460.9 L167.9 457.4 L168.4 454.7 L168.9 452.6 L169.4 451 L169.9 449.7 L170.4 448.8 L170.9 448 L171.4 447.5 L171.9 447 L172.3 446.7 L172.8 446.5 L173.3 446.3 L173.8 446.2 L174.3 446.2 L174.8 446.2 L175.3 446.3 L175.8 446.3 L176.3 446.5 L176.7 446.6 L177.2 446.8 L177.7 447 L178.2 447.3 L178.7 447.6 L179.2 447.9 L179.7 448.2 L180.2 448.6 L180.7 448.9 L181.1 449.3 L181.6 449.7 L182.1 450.1 L182.6 450.5 L183.1 451 L183.6 451.4 L184.1 451.8 L184.6 452.2 L185.1 452.7 L185.6 453.1 L186 453.6 L186.5 454 L187 454.4 L187.5 454.9 L188 455.3 L188.5 455.8 L189 456.2 L189.5 456.7 L190 457.1 L190.4 457.6 L190.9 458 L191.4 458.5 L191.9 458.9 L192.4 459.4 L192.9 459.8 L193.4 460.3 L193.9 460.7 L194.4 461.2 L194.8 461.6 L195.3 458.2 L195.8 455.6 L196.3 453.6 L196.8 452 L197.3 450.8 L197.8 449.8 L198.3 449.1 L198.8 448.5 L199.3 448.1 L199.7 447.8 L200.2 447.6 L200.7 447.4 L201.2 447.3 L201.7 447.2 L202.2 447.2 L202.7 447.3 L203.2 447.4 L203.7 447.5 L204.1 447.6 L204.6 447.8 L205.1 448 L205.6 448.2 L206.1 448.5 L206.6 448.8 L207.1 449.1 L207.6 449.4 L208.1 449.7 L208.6 450.1 L209 450.5 L209.5 450.9 L210 451.3 L210.5 451.7 L211 452.1 L211.5 452.5 L212 452.9 L212.5 453.3 L213 453.7 L213.4 454.1 L213.9 454.6 L214.4 455 L214.9 455.4 L215.4 455.8 L215.9 456.2 L216.4 456.7 L216.9 457.1 L217.4 457.5 L217.8 458 L218.3 458.4 L218.8 458.8 L219.3 459.2 L219.8 459.7 L220.3 460.1 L220.8 460.5 L221.3 460.9 L221.8 461.4 L222.2 461.8 L222.7 458.5 L223.2 455.9 L223.7 453.9 L224.2 452.3 L224.7 451.1 L225.2 450.2 L225.7 449.5 L226.2 448.9 L226.7 448.5 L227.1 448.2 L227.6 447.9 L228.1 447.8 L228.6 447.7 L229.1 447.6 L229.6 447.6 L230.1 447.7 L230.6 447.7 L231.1 447.8 L231.5 448 L232 448.1 L232.5 448.3 L233 448.6 L233.5 448.8 L234 449.1 L234.5 449.4 L235 449.7 L235.5 450.1 L235.9 450.4 L236.4 450.8 L236.9 451.1 L237.4 451.5 L237.9 451.9 L238.4 452.3 L238.9 452.7 L239.4 453.1 L239.9 453.5 L240.4 453.9 L240.8 454.3 L241.3 454.8 L241.8 455.2 L242.3 455.6 L242.8 456 L243.3 456.4 L243.8 456.8 L244.3 457.3 L244.8 457.7 L245.2 458.1 L245.7 458.5 L246.2 458.9 L246.7 459.3 L247.2 459.8 L247.7 460.2 L248.2 460.6 L248.7 461 L249.2 461.4 L249.7 461.9 L250.1 458.6 L250.6 456 L251.1 454 L251.6 452.4 L252.1 451.2 L252.6 450.3 L253.1 449.6 L253.6 449 L254.1 448.6 L254.5 448.3 L255 448.1 L255.5 447.9 L256 447.8 L256.5 447.8 L257 447.8 L257.5 447.8 L258 447.9 L258.5 448 L258.9 448.1 L259.4 448.3 L259.9 448.5 L260.4 448.7 L260.9 448.9 L261.4 449.2 L261.9 449.5 L262.4 449.8 L262.9 450.2 L263.4 450.5 L263.8 450.9 L264.3 451.3 L264.8 451.6 L265.3 452 L265.8 452.4 L266.3 452.8 L266.8 453.2 L267.3 453.6 L267.8 454 L268.2 454.4 L268.7 454.8 L269.2 455.2 L269.7 455.7 L270.2 456.1 L270.7 456.5 L271.2 456.9 L271.7 457.3 L272.2 457.7 L272.6 458.1 L273.1 458.6 L273.6 459 L274.1 459.4 L274.6 459.8 L275.1 460.2 L275.6 460.6 L276.1 461 L276.6 461.5 L277 461.9 L277.5 458.6 L278 456 L278.5 454 L279 452.5 L279.5 451.3 L280 450.4 L280.5 449.6 L281 449.1 L281.5 448.7 L281.9 448.4 L282.4 448.1 L282.9 448 L283.4 447.9 L283.9 447.8 L284.4 447.8 L284.9 447.8 L285.4 447.9 L285.9 448 L286.3 448.2 L286.8 448.3 L287.3 448.5 L287.8 448.7 L288.3 449 L288.8 449.3 L289.3 449.6 L289.8 449.9 L290.3 450.2 L290.8 450.6 L291.2 450.9 L291.7 451.3 L292.2 451.7 L292.7 452.1 L293.2 452.4 L293.7 452.8 L294.2 453.2 L294.7 453.6 L295.2 454 L295.6 454.5 L296.1 454.9 L296.6 455.3 L297.1 455.7 L297.6 456.1 L298.1 456.5 L298.6 456.9 L299.1 457.3 L299.6 457.7 L300 458.2 L300.5 458.6 L301 459 L301.5 459.4 L302 459.8 L302.5 460.2 L303 460.6 L303.5 461.1 L304 461.5 L304.4 461.9 L304.9 458.6 L305.4 456 L305.9 454 L306.4 452.5 L306.9 451.3 L307.4 450.4 L307.9 449.7 L308.4 449.1 L308.9 448.7 L309.3 448.4 L309.8 448.2 L310.3 448 L310.8 447.9 L311.3 447.8 L311.8 447.8 L312.3 447.9 L312.8 447.9 L313.3 448 L313.7 448.2 L314.2 448.3 L314.7 448.5 L315.2 448.8 L315.7 449 L316.2 449.3 L316.7 449.6 L317.2 449.9 L317.7 450.2 L318.1 450.6 L318.6 450.9 L319.1 451.3 L319.6 451.7 L320.1 452.1 L320.6 452.5 L321.1 452.9 L321.6 453.3 L322.1 453.7 L322.6 454.1 L323 454.5 L323.5 454.9 L324 455.3 L324.5 455.7 L325 456.1 L325.5 456.5 L326 456.9 L326.5 457.3 L327 457.7 L327.4 458.2 L327.9 458.6 L328.4 459 L328.9 459.4 L329.4 459.8 L329.9 460.2 L330.4 460.6 L330.9 461.1 L331.4 461.5 L331.9 461.9 L332.3 458.6 L332.8 456 L333.3 454.1 L333.8 452.5 L334.3 451.3 L334.8 450.4 L335.3 449.7 L335.8 449.1 L336.3 448.7 L336.7 448.4 L337.2 448.2 L337.7 448 L338.2 447.9 L338.7 447.9 L339.2 447.8 L339.7 447.9 L340.2 447.9 L340.7 448 L341.1 448.2 L341.6 448.3 L342.1 448.5 L342.6 448.8 L343.1 449 L343.6 449.3 L344.1 449.6 L344.6 449.9 L345.1 450.2 L345.6 450.6 L346 450.9 L346.5 451.3 L347 451.7 L347.5 452.1 L348 452.5 L348.5 452.9 L349 453.3 L349.5 453.7 L350 454.1 L350.4 454.5 L350.9 454.9 L351.4 455.3 L351.9 455.7 L352.4 456.1 L352.9 456.5 L353.4 456.9 L353.9 457.3 L354.4 457.8 L354.8 458.2 L355.3 458.6 L355.8 459 L356.3 459.4 L356.8 459.8 L357.3 460.2 L357.8 460.6 L358.3 461.1 L358.8 461.5 L359.2 461.9 L359.7 458.6 L360.2 456 L360.7 454.1 L361.2 452.5 L361.7 451.3 L362.2 450.4 L362.7 449.7 L363.2 449.1 L363.7 448.7 L364.1 448.4 L364.6 448.2 L365.1 448 L365.6 447.9 L366.1 447.9 L366.6 447.8 L367.1 447.9 L367.6 447.9 L368.1 448 L368.5 448.2 L369 448.4 L369.5 448.5 L370 448.8 L370.5 449 L371 449.3 L371.5 449.6 L372 449.9 L372.5 450.2 L372.9 450.6 L373.4 450.9 L373.9 451.3 L374.4 451.7 L374.9 452.1 L375.4 452.5 L375.9 452.9 L376.4 453.3 L376.9 453.7 L377.4 454.1 L377.8 454.5 L378.3 454.9 L378.8 455.3 L379.3 455.7 L379.8 456.1 L380.3 456.5 L380.8 456.9 L381.3 457.3 L381.8 457.8 L382.2 458.2 L382.7 458.6 L383.2 459 L383.7 459.4 L384.2 459.8 L384.7 460.2 L385.2 460.6 L385.7 461.1 L386.2 461.5 L386.6 461.9 L387.1 458.6 L387.6 456 L388.1 454.1 L388.6 452.5 L389.1 451.3 L389.6 450.4 L390.1 449.7 L390.6 449.1 L391.1 448.7 L391.5 448.4 L392 448.2 L392.5 448 L393 447.9 L393.5 447.9 L394 447.8 L394.5 447.9 L395 447.9 L395.5 448.1 L395.9 448.2 L396.4 448.4 L396.9 448.5 L397.4 448.8 L397.9 449 L398.4 449.3 L398.9 449.6 L399.4 449.9 L399.9 450.2 L400.3 450.6 L400.8 450.9 L401.3 451.3 L401.8 451.7 L402.3 452.1 L402.8 452.5 L403.3 452.9 L403.8 453.3 L404.3 453.7 L404.8 454.1 L405.2 454.5 L405.7 454.9 L406.2 455.3 L406.7 455.7 L407.2 456.1 L407.7 456.5 L408.2 456.9 L408.7 457.3 L409.2 457.8 L409.6 458.2 L410.1 458.6 L410.6 459 L411.1 459.4 L411.6 459.8 L412.1 460.2 L412.6 460.6 L413.1 461.1 L413.6 461.5 L414.1 461.9 L414.5 458.6 L415 456 L415.5 454.1 L416 452.5 L416.5 451.3 L417 450.4 L417.5 449.7 L418 449.1 L418.5 448.7 L418.9 448.4 L419.4 448.2 L419.9 448 L420.4 447.9 L420.9 447.9 L421.4 447.8 L421.9 447.9 L422.4 447.9 L422.9 448.1 L423.3 448.2 L423.8 448.4 L424.3 448.5 L424.8 448.8 L425.3 449 L425.8 449.3 L426.3 449.6 L426.8 449.9 L427.3 450.2 L427.8 450.6 L428.2 450.9 L428.7 451.3 L429.2 451.7 L429.7 452.1 L430.2 452.5 L430.7 452.9 L431.2 453.3 L431.7 453.7 L432.2 454.1 L432.6 454.5 L433.1 454.9 L433.6 455.3 L434.1 455.7 L434.6 456.1 L435.1 456.5 L435.6 456.9 L436.1 457.3 L436.6 457.8 L437 458.2 L437.5 458.6 L438 459 L438.5 459.4 L439 459.8 L439.5 460.2 L440 460.6 L440.5 461.1 L441 461.5 L441.4 461.9 L441.4 496.8 L441 496.5 L440.5 496.1 L440 495.8 L439.5 495.5 L439 495.1 L438.5 494.8 L438 494.4 L437.5 494.1 L437 493.7 L436.6 493.4 L436.1 493.1 L435.6 492.7 L435.1 492.4 L434.6 492 L434.1 491.7 L433.6 491.3 L433.1 491 L432.6 490.7 L432.2 490.3 L431.7 490 L431.2 489.6 L430.7 489.3 L430.2 489 L429.7 488.6 L429.2 488.3 L428.7 488 L428.2 487.6 L427.8 487.3 L427.3 487 L426.8 486.7 L426.3 486.3 L425.8 486 L425.3 485.7 L424.8 485.5 L424.3 485.2 L423.8 485 L423.3 484.8 L422.9 484.6 L422.4 484.5 L421.9 484.4 L421.4 484.3 L420.9 484.3 L420.4 484.4 L419.9 484.5 L419.4 484.7 L418.9 485 L418.5 485.3 L418 485.8 L417.5 486.4 L417 487.1 L416.5 488 L416 489.1 L415.5 490.5 L415 492.2 L414.5 494.3 L414.1 496.8 L413.6 496.5 L413.1 496.1 L412.6 495.8 L412.1 495.5 L411.6 495.1 L411.1 494.8 L410.6 494.4 L410.1 494.1 L409.6 493.7 L409.2 493.4 L408.7 493.1 L408.2 492.7 L407.7 492.4 L407.2 492 L406.7 491.7 L406.2 491.3 L405.7 491 L405.2 490.7 L404.8 490.3 L404.3 490 L403.8 489.6 L403.3 489.3 L402.8 489 L402.3 488.6 L401.8 488.3 L401.3 487.9 L400.8 487.6 L400.3 487.3 L399.9 487 L399.4 486.6 L398.9 486.3 L398.4 486 L397.9 485.7 L397.4 485.5 L396.9 485.2 L396.4 485 L395.9 484.7 L395.5 484.6 L395 484.4 L394.5 484.3 L394 484.3 L393.5 484.3 L393 484.4 L392.5 484.5 L392 484.7 L391.5 485 L391.1 485.3 L390.6 485.8 L390.1 486.4 L389.6 487.1 L389.1 488 L388.6 489.1 L388.1 490.5 L387.6 492.2 L387.1 494.2 L386.6 496.8 L386.2 496.5 L385.7 496.1 L385.2 495.8 L384.7 495.4 L384.2 495.1 L383.7 494.8 L383.2 494.4 L382.7 494.1 L382.2 493.7 L381.8 493.4 L381.3 493 L380.8 492.7 L380.3 492.3 L379.8 492 L379.3 491.7 L378.8 491.3 L378.3 491 L377.8 490.6 L377.4 490.3 L376.9 489.9 L376.4 489.6 L375.9 489.3 L375.4 488.9 L374.9 488.6 L374.4 488.2 L373.9 487.9 L373.4 487.6 L372.9 487.2 L372.5 486.9 L372 486.6 L371.5 486.3 L371 486 L370.5 485.7 L370 485.4 L369.5 485.2 L369 484.9 L368.5 484.7 L368.1 484.5 L367.6 484.4 L367.1 484.3 L366.6 484.3 L366.1 484.3 L365.6 484.3 L365.1 484.5 L364.6 484.7 L364.1 484.9 L363.7 485.3 L363.2 485.7 L362.7 486.3 L362.2 487 L361.7 487.9 L361.2 489.1 L360.7 490.4 L360.2 492.1 L359.7 494.2 L359.2 496.8 L358.8 496.5 L358.3 496.1 L357.8 495.8 L357.3 495.4 L356.8 495.1 L356.3 494.7 L355.8 494.4 L355.3 494 L354.8 493.7 L354.4 493.4 L353.9 493 L353.4 492.7 L352.9 492.3 L352.4 492 L351.9 491.6 L351.4 491.3 L350.9 490.9 L350.4 490.6 L350 490.3 L349.5 489.9 L349 489.6 L348.5 489.2 L348 488.9 L347.5 488.5 L347 488.2 L346.5 487.9 L346 487.5 L345.6 487.2 L345.1 486.9 L344.6 486.5 L344.1 486.2 L343.6 485.9 L343.1 485.6 L342.6 485.4 L342.1 485.1 L341.6 484.9 L341.1 484.6 L340.7 484.5 L340.2 484.3 L339.7 484.2 L339.2 484.2 L338.7 484.2 L338.2 484.3 L337.7 484.4 L337.2 484.6 L336.7 484.9 L336.3 485.2 L335.8 485.7 L335.3 486.3 L334.8 487 L334.3 487.9 L333.8 489 L333.3 490.4 L332.8 492.1 L332.3 494.2 L331.9 496.8 L331.4 496.5 L330.9 496.1 L330.4 495.8 L329.9 495.4 L329.4 495.1 L328.9 494.7 L328.4 494.4 L327.9 494 L327.4 493.7 L327 493.3 L326.5 493 L326 492.6 L325.5 492.3 L325 491.9 L324.5 491.6 L324 491.2 L323.5 490.9 L323 490.5 L322.6 490.2 L322.1 489.8 L321.6 489.5 L321.1 489.1 L320.6 488.8 L320.1 488.5 L319.6 488.1 L319.1 487.8 L318.6 487.4 L318.1 487.1 L317.7 486.8 L317.2 486.4 L316.7 486.1 L316.2 485.8 L315.7 485.5 L315.2 485.2 L314.7 485 L314.2 484.7 L313.7 484.5 L313.3 484.4 L312.8 484.2 L312.3 484.1 L311.8 484.1 L311.3 484.1 L310.8 484.1 L310.3 484.3 L309.8 484.5 L309.3 484.7 L308.9 485.1 L308.4 485.6 L307.9 486.1 L307.4 486.9 L306.9 487.8 L306.4 488.9 L305.9 490.3 L305.4 492 L304.9 494.1 L304.4 496.8 L304 496.4 L303.5 496.1 L303 495.7 L302.5 495.3 L302 495 L301.5 494.6 L301 494.3 L300.5 493.9 L300 493.6 L299.6 493.2 L299.1 492.9 L298.6 492.5 L298.1 492.2 L297.6 491.8 L297.1 491.5 L296.6 491.1 L296.1 490.8 L295.6 490.4 L295.2 490.1 L294.7 489.7 L294.2 489.4 L293.7 489 L293.2 488.7 L292.7 488.3 L292.2 488 L291.7 487.6 L291.2 487.3 L290.8 486.9 L290.3 486.6 L289.8 486.3 L289.3 485.9 L288.8 485.6 L288.3 485.3 L287.8 485.1 L287.3 484.8 L286.8 484.5 L286.3 484.3 L285.9 484.1 L285.4 484 L284.9 483.9 L284.4 483.9 L283.9 483.9 L283.4 483.9 L282.9 484.1 L282.4 484.3 L281.9 484.5 L281.5 484.9 L281 485.4 L280.5 486 L280 486.7 L279.5 487.6 L279 488.8 L278.5 490.2 L278 491.9 L277.5 494 L277 496.7 L276.6 496.3 L276.1 495.9 L275.6 495.6 L275.1 495.2 L274.6 494.9 L274.1 494.5 L273.6 494.1 L273.1 493.8 L272.6 493.4 L272.2 493.1 L271.7 492.7 L271.2 492.3 L270.7 492 L270.2 491.6 L269.7 491.3 L269.2 490.9 L268.7 490.5 L268.2 490.2 L267.8 489.8 L267.3 489.5 L266.8 489.1 L266.3 488.8 L265.8 488.4 L265.3 488 L264.8 487.7 L264.3 487.3 L263.8 487 L263.4 486.6 L262.9 486.3 L262.4 486 L261.9 485.6 L261.4 485.3 L260.9 485 L260.4 484.7 L259.9 484.4 L259.4 484.2 L258.9 484 L258.5 483.8 L258 483.6 L257.5 483.5 L257 483.5 L256.5 483.5 L256 483.6 L255.5 483.7 L255 483.9 L254.5 484.2 L254.1 484.5 L253.6 485 L253.1 485.6 L252.6 486.4 L252.1 487.3 L251.6 488.4 L251.1 489.9 L250.6 491.6 L250.1 493.8 L249.7 496.5 L249.2 496.1 L248.7 495.7 L248.2 495.3 L247.7 495 L247.2 494.6 L246.7 494.2 L246.2 493.9 L245.7 493.5 L245.2 493.1 L244.8 492.7 L244.3 492.4 L243.8 492 L243.3 491.6 L242.8 491.3 L242.3 490.9 L241.8 490.5 L241.3 490.1 L240.8 489.8 L240.4 489.4 L239.9 489 L239.4 488.7 L238.9 488.3 L238.4 487.9 L237.9 487.6 L237.4 487.2 L236.9 486.8 L236.4 486.5 L235.9 486.1 L235.5 485.8 L235 485.4 L234.5 485.1 L234 484.8 L233.5 484.4 L233 484.1 L232.5 483.9 L232 483.6 L231.5 483.4 L231.1 483.2 L230.6 483 L230.1 482.9 L229.6 482.9 L229.1 482.9 L228.6 482.9 L228.1 483.1 L227.6 483.3 L227.1 483.5 L226.7 483.9 L226.2 484.4 L225.7 485 L225.2 485.8 L224.7 486.7 L224.2 487.9 L223.7 489.3 L223.2 491.1 L222.7 493.3 L222.2 496 L221.8 495.6 L221.3 495.2 L220.8 494.8 L220.3 494.4 L219.8 494 L219.3 493.7 L218.8 493.3 L218.3 492.9 L217.8 492.5 L217.4 492.1 L216.9 491.7 L216.4 491.3 L215.9 490.9 L215.4 490.6 L214.9 490.2 L214.4 489.8 L213.9 489.4 L213.4 489 L213 488.6 L212.5 488.2 L212 487.8 L211.5 487.5 L211 487.1 L210.5 486.7 L210 486.3 L209.5 485.9 L209 485.6 L208.6 485.2 L208.1 484.8 L207.6 484.5 L207.1 484.1 L206.6 483.8 L206.1 483.4 L205.6 483.1 L205.1 482.8 L204.6 482.5 L204.1 482.3 L203.7 482.1 L203.2 481.9 L202.7 481.8 L202.2 481.8 L201.7 481.8 L201.2 481.8 L200.7 481.9 L200.2 482.1 L199.7 482.4 L199.3 482.8 L198.8 483.3 L198.3 483.9 L197.8 484.6 L197.3 485.6 L196.8 486.7 L196.3 488.2 L195.8 490 L195.3 492.2 L194.8 494.9 L194.4 494.5 L193.9 494.1 L193.4 493.7 L192.9 493.3 L192.4 492.8 L191.9 492.4 L191.4 492 L190.9 491.6 L190.4 491.2 L190 490.8 L189.5 490.4 L189 490 L188.5 489.6 L188 489.2 L187.5 488.8 L187 488.4 L186.5 488 L186 487.6 L185.6 487.1 L185.1 486.7 L184.6 486.3 L184.1 485.9 L183.6 485.5 L183.1 485.1 L182.6 484.7 L182.1 484.3 L181.6 483.9 L181.1 483.5 L180.7 483.2 L180.2 482.8 L179.7 482.4 L179.2 482 L178.7 481.7 L178.2 481.3 L177.7 481 L177.2 480.7 L176.7 480.5 L176.3 480.2 L175.8 480.1 L175.3 479.9 L174.8 479.9 L174.3 479.8 L173.8 479.9 L173.3 480 L172.8 480.1 L172.3 480.4 L171.9 480.8 L171.4 481.2 L170.9 481.8 L170.4 482.5 L169.9 483.4 L169.4 484.5 L168.9 485.9 L168.4 487.6 L167.9 489.7 L167.4 492.4 L167 491.9 L166.5 491.5 L166 491.1 L165.5 490.7 L165 490.3 L164.5 489.8 L164 489.4 L163.5 489 L163 488.6 L162.6 488.2 L162.1 487.7 L161.6 487.3 L161.1 486.9 L160.6 486.5 L160.1 486.1 L159.6 485.7 L159.1 485.2 L158.6 484.8 L158.2 484.4 L157.7 484 L157.2 483.6 L156.7 483.1 L156.2 482.7 L155.7 482.3 L155.2 481.9 L154.7 481.5 L154.2 481.1 L153.8 480.7 L153.3 480.3 L152.8 479.9 L152.3 479.5 L151.8 479.1 L151.3 478.7 L150.8 478.4 L150.3 478 L149.8 477.7 L149.3 477.4 L148.9 477.1 L148.4 476.9 L147.9 476.7 L147.4 476.6 L146.9 476.5 L146.4 476.5 L145.9 476.5 L145.4 476.6 L144.9 476.8 L144.5 477 L144 477.4 L143.5 477.8 L143 478.4 L142.5 479.1 L142 480 L141.5 481.1 L141 482.6 L140.5 484.3 L140.1 486.5 L139.6 486.1 L139.1 485.8 L138.6 485.4 L138.1 485 L137.6 484.6 L137.1 484.2 L136.6 483.8 L136.1 483.4 L135.6 483 L135.2 482.6 L134.7 482.2 L134.2 481.9 L133.7 481.5 L133.2 481.1 L132.7 480.7 L132.2 480.3 L131.7 479.9 L131.2 479.5 L130.8 479.1 L130.3 478.7 L129.8 478.3 L129.3 478 L128.8 477.6 L128.3 477.2 L127.8 476.8 L127.3 476.4 L126.8 476 L126.3 475.6 L125.9 475.2 L125.4 474.9 L124.9 474.5 L124.4 474.1 L123.9 473.7 L123.4 473.4 L122.9 473 L122.4 472.6 L121.9 472.3 L121.5 472 L121 471.7 L120.5 471.4 L120 471.1 L119.5 470.9 L119 470.8 L118.5 470.7 L118 470.6 L117.5 470.7 L117.1 470.8 L116.6 471 L116.1 471.3 L115.6 471.8 L115.1 472.5 L114.6 473.4 L114.1 474.6 L113.6 476.2 L113.1 478.4 L112.7 481.2 L112.2 481.3 L111.7 481.3 L111.2 481.4 L110.7 481.4 L110.2 481.5 L109.7 481.5 L109.2 481.4 L108.7 481.3 L108.2 481.2 L107.8 481.1 L107.3 481 L106.8 480.9 L106.3 481.2 L105.8 481.5 L105.3 481.9 L104.8 482.2 L104.3 482.5 L103.8 482.8 L103.4 483.1 L102.9 483.4 L102.4 483.2 L101.9 482.9 L101.4 482.6 L100.9 482.4 L100.4 482.1 L99.9 481.9 L99.4 482.1 L99 482.4 L98.5 482.7 L98 482.9 L97.5 483.2 L97 483.5 L96.5 483.8 L96 484 L95.5 483.7 L95 483.3 L94.5 482.9 L94.1 482.6 L93.6 482.2 L93.1 481.9 L92.6 482 L92.1 482.1 L91.6 482.2 L91.1 482.3 L90.6 482.4 L90.1 482.5 L89.7 481 L89.2 479.4 L88.7 477.9 L88.2 476.4 L87.7 474.9 L87.2 473.4 L86.7 471.9 L86.2 467.2 L85.7 462.5 L85.2 457.8 Z" fill="#7fb3d8"/>
<path d="M85.2 448.5 L85.7 451.6 L86.2 454.7 L86.7 457.8 L87.2 460.9 L87.7 462.6 L88.2 464.2 L88.7 465.9 L89.2 467.5 L89.7 469.2 L90.1 470.8 L90.6 472.5 L91.1 471.6 L91.6 470.6 L92.1 471.9 L92.6 473.1 L93.1 472.2 L93.6 471.2 L94.1 471.8 L94.5 472.3 L95 472.8 L95.5 473.4 L96 473.9 L96.5 474.4 L97 475 L97.5 474.5 L98 474 L98.5 473.5 L99 473 L99.4 472.5 L99.9 471.2 L100.4 470 L100.9 470.6 L101.4 471.2 L101.9 471.9 L102.4 472.1 L102.9 472.3 L103.4 472.5 L103.8 472 L104.3 471.5 L104.8 471 L105.3 470.5 L105.8 470 L106.3 469.5 L106.8 469 L107.3 468.4 L107.8 468.5 L108.2 468.6 L108.7 468.6 L109.2 468.7 L109.7 468.8 L110.2 468.6 L110.7 468.4 L111.2 468.3 L111.7 468.1 L112.2 468.3 L112.7 468.4 L113.1 464 L113.6 461 L114.1 458.8 L114.6 457.4 L115.1 456.4 L115.6 455.7 L116.1 455.3 L116.6 455.1 L117.1 455 L117.5 455.1 L118 455.2 L118.5 455.4 L119 455.7 L119.5 456 L120 456.3 L120.5 456.7 L121 457.1 L121.5 457.5 L121.9 458 L122.4 458.4 L122.9 458.8 L123.4 459.3 L123.9 459.8 L124.4 460.2 L124.9 460.7 L125.4 461.2 L125.9 461.6 L126.3 462.1 L126.8 462.6 L127.3 463 L127.8 463.5 L128.3 464 L128.8 464.5 L129.3 464.9 L129.8 465.4 L130.3 465.9 L130.8 466.3 L131.2 466.8 L131.7 467.3 L132.2 467.8 L132.7 468.2 L133.2 468.7 L133.7 469.2 L134.2 469.6 L134.7 470.1 L135.2 470.6 L135.6 471.1 L136.1 471.5 L136.6 472 L137.1 472.5 L137.6 472.9 L138.1 473.4 L138.6 473.9 L139.1 474.4 L139.6 474.8 L140.1 475.3 L140.5 471.2 L141 468.1 L141.5 465.7 L142 463.9 L142.5 462.5 L143 461.5 L143.5 460.7 L144 460.1 L144.5 459.7 L144.9 459.4 L145.4 459.3 L145.9 459.2 L146.4 459.3 L146.9 459.4 L147.4 459.6 L147.9 459.9 L148.4 460.2 L148.9 460.5 L149.3 460.9 L149.8 461.4 L150.3 461.8 L150.8 462.3 L151.3 462.8 L151.8 463.3 L152.3 463.9 L152.8 464.4 L153.3 464.9 L153.8 465.5 L154.2 466 L154.7 466.6 L155.2 467.1 L155.7 467.7 L156.2 468.2 L156.7 468.8 L157.2 469.3 L157.7 469.9 L158.2 470.4 L158.6 471 L159.1 471.5 L159.6 472.1 L160.1 472.6 L160.6 473.2 L161.1 473.7 L161.6 474.3 L162.1 474.8 L162.6 475.4 L163 475.9 L163.5 476.5 L164 477 L164.5 477.6 L165 478.1 L165.5 478.7 L166 479.2 L166.5 479.8 L167 480.3 L167.4 480.9 L167.9 476.3 L168.4 472.8 L168.9 470 L169.4 467.9 L169.9 466.2 L170.4 465 L170.9 464 L171.4 463.3 L171.9 462.7 L172.3 462.4 L172.8 462.1 L173.3 462 L173.8 461.9 L174.3 462 L174.8 462.1 L175.3 462.3 L175.8 462.5 L176.3 462.8 L176.7 463.2 L177.2 463.6 L177.7 464 L178.2 464.5 L178.7 465 L179.2 465.4 L179.7 465.9 L180.2 466.5 L180.7 467 L181.1 467.5 L181.6 468 L182.1 468.5 L182.6 469.1 L183.1 469.6 L183.6 470.1 L184.1 470.7 L184.6 471.2 L185.1 471.7 L185.6 472.3 L186 472.8 L186.5 473.3 L187 473.9 L187.5 474.4 L188 475 L188.5 475.5 L189 476 L189.5 476.6 L190 477.1 L190.4 477.6 L190.9 478.2 L191.4 478.7 L191.9 479.2 L192.4 479.8 L192.9 480.3 L193.4 480.9 L193.9 481.4 L194.4 481.9 L194.8 482.5 L195.3 478 L195.8 474.5 L196.3 471.8 L196.8 469.6 L197.3 468 L197.8 466.7 L198.3 465.8 L198.8 465 L199.3 464.5 L199.7 464.1 L200.2 463.8 L200.7 463.7 L201.2 463.6 L201.7 463.6 L202.2 463.7 L202.7 463.9 L203.2 464.1 L203.7 464.4 L204.1 464.8 L204.6 465.1 L205.1 465.5 L205.6 465.9 L206.1 466.4 L206.6 466.9 L207.1 467.3 L207.6 467.8 L208.1 468.3 L208.6 468.8 L209 469.3 L209.5 469.8 L210 470.3 L210.5 470.8 L211 471.3 L211.5 471.8 L212 472.3 L212.5 472.8 L213 473.3 L213.4 473.8 L213.9 474.3 L214.4 474.8 L214.9 475.3 L215.4 475.8 L215.9 476.3 L216.4 476.8 L216.9 477.3 L217.4 477.9 L217.8 478.4 L218.3 478.9 L218.8 479.4 L219.3 479.9 L219.8 480.4 L220.3 480.9 L220.8 481.4 L221.3 481.9 L221.8 482.4 L222.2 482.9 L222.7 478.6 L223.2 475.2 L223.7 472.6 L224.2 470.5 L224.7 469 L225.2 467.7 L225.7 466.8 L226.2 466.1 L226.7 465.6 L227.1 465.2 L227.6 464.9 L228.1 464.8 L228.6 464.7 L229.1 464.7 L229.6 464.8 L230.1 465 L230.6 465.2 L231.1 465.4 L231.5 465.8 L232 466.1 L232.5 466.5 L233 466.9 L233.5 467.3 L234 467.8 L234.5 468.2 L235 468.7 L235.5 469.1 L235.9 469.6 L236.4 470.1 L236.9 470.5 L237.4 471 L237.9 471.5 L238.4 472 L238.9 472.4 L239.4 472.9 L239.9 473.4 L240.4 473.9 L240.8 474.4 L241.3 474.9 L241.8 475.3 L242.3 475.8 L242.8 476.3 L243.3 476.8 L243.8 477.3 L244.3 477.7 L244.8 478.2 L245.2 478.7 L245.7 479.2 L246.2 479.7 L246.7 480.2 L247.2 480.6 L247.7 481.1 L248.2 481.6 L248.7 482.1 L249.2 482.6 L249.7 483 L250.1 478.8 L250.6 475.6 L251.1 473 L251.6 471.1 L252.1 469.5 L252.6 468.3 L253.1 467.4 L253.6 466.7 L254.1 466.2 L254.5 465.8 L255 465.6 L255.5 465.4 L256 465.4 L256.5 465.4 L257 465.5 L257.5 465.6 L258 465.8 L258.5 466.1 L258.9 466.4 L259.4 466.7 L259.9 467.1 L260.4 467.5 L260.9 467.9 L261.4 468.3 L261.9 468.8 L262.4 469.2 L262.9 469.6 L263.4 470.1 L263.8 470.6 L264.3 471 L264.8 471.5 L265.3 471.9 L265.8 472.4 L266.3 472.9 L266.8 473.3 L267.3 473.8 L267.8 474.2 L268.2 474.7 L268.7 475.2 L269.2 475.6 L269.7 476.1 L270.2 476.6 L270.7 477 L271.2 477.5 L271.7 478 L272.2 478.4 L272.6 478.9 L273.1 479.4 L273.6 479.8 L274.1 480.3 L274.6 480.8 L275.1 481.2 L275.6 481.7 L276.1 482.2 L276.6 482.6 L277 483.1 L277.5 479 L278 475.8 L278.5 473.3 L279 471.4 L279.5 469.9 L280 468.7 L280.5 467.8 L281 467.1 L281.5 466.6 L281.9 466.3 L282.4 466 L282.9 465.9 L283.4 465.8 L283.9 465.8 L284.4 465.9 L284.9 466.1 L285.4 466.3 L285.9 466.5 L286.3 466.8 L286.8 467.1 L287.3 467.5 L287.8 467.9 L288.3 468.3 L288.8 468.7 L289.3 469.1 L289.8 469.5 L290.3 470 L290.8 470.4 L291.2 470.9 L291.7 471.3 L292.2 471.8 L292.7 472.2 L293.2 472.7 L293.7 473.1 L294.2 473.6 L294.7 474 L295.2 474.5 L295.6 474.9 L296.1 475.4 L296.6 475.8 L297.1 476.3 L297.6 476.7 L298.1 477.2 L298.6 477.6 L299.1 478.1 L299.6 478.6 L300 479 L300.5 479.5 L301 479.9 L301.5 480.4 L302 480.8 L302.5 481.3 L303 481.7 L303.5 482.2 L304 482.6 L304.4 483.1 L304.9 479.1 L305.4 475.9 L305.9 473.5 L306.4 471.5 L306.9 470.1 L307.4 468.9 L307.9 468.1 L308.4 467.4 L308.9 466.9 L309.3 466.5 L309.8 466.3 L310.3 466.1 L310.8 466.1 L311.3 466.1 L311.8 466.2 L312.3 466.3 L312.8 466.5 L313.3 466.8 L313.7 467.1 L314.2 467.4 L314.7 467.7 L315.2 468.1 L315.7 468.5 L316.2 468.9 L316.7 469.3 L317.2 469.8 L317.7 470.2 L318.1 470.6 L318.6 471.1 L319.1 471.5 L319.6 471.9 L320.1 472.4 L320.6 472.8 L321.1 473.3 L321.6 473.7 L322.1 474.2 L322.6 474.6 L323 475.1 L323.5 475.5 L324 475.9 L324.5 476.4 L325 476.8 L325.5 477.3 L326 477.7 L326.5 478.2 L327 478.6 L327.4 479.1 L327.9 479.5 L328.4 480 L328.9 480.4 L329.4 480.9 L329.9 481.3 L330.4 481.8 L330.9 482.2 L331.4 482.7 L331.9 483.1 L332.3 479.1 L332.8 476 L333.3 473.6 L333.8 471.7 L334.3 470.2 L334.8 469.1 L335.3 468.2 L335.8 467.6 L336.3 467.1 L336.7 466.7 L337.2 466.5 L337.7 466.3 L338.2 466.3 L338.7 466.3 L339.2 466.4 L339.7 466.5 L340.2 466.7 L340.7 467 L341.1 467.2 L341.6 467.6 L342.1 467.9 L342.6 468.3 L343.1 468.7 L343.6 469.1 L344.1 469.5 L344.6 469.9 L345.1 470.3 L345.6 470.7 L346 471.2 L346.5 471.6 L347 472.1 L347.5 472.5 L348 472.9 L348.5 473.4 L349 473.8 L349.5 474.3 L350 474.7 L350.4 475.1 L350.9 475.6 L351.4 476 L351.9 476.5 L352.4 476.9 L352.9 477.3 L353.4 477.8 L353.9 478.2 L354.4 478.7 L354.8 479.1 L355.3 479.6 L355.8 480 L356.3 480.4 L356.8 480.9 L357.3 481.3 L357.8 481.8 L358.3 482.2 L358.8 482.7 L359.2 483.1 L359.7 479.1 L360.2 476 L360.7 473.6 L361.2 471.7 L361.7 470.3 L362.2 469.2 L362.7 468.3 L363.2 467.7 L363.7 467.2 L364.1 466.8 L364.6 466.6 L365.1 466.4 L365.6 466.4 L366.1 466.4 L366.6 466.5 L367.1 466.6 L367.6 466.8 L368.1 467.1 L368.5 467.3 L369 467.7 L369.5 468 L370 468.4 L370.5 468.8 L371 469.2 L371.5 469.6 L372 470 L372.5 470.4 L372.9 470.8 L373.4 471.3 L373.9 471.7 L374.4 472.1 L374.9 472.6 L375.4 473 L375.9 473.4 L376.4 473.9 L376.9 474.3 L377.4 474.8 L377.8 475.2 L378.3 475.6 L378.8 476.1 L379.3 476.5 L379.8 476.9 L380.3 477.4 L380.8 477.8 L381.3 478.3 L381.8 478.7 L382.2 479.1 L382.7 479.6 L383.2 480 L383.7 480.5 L384.2 480.9 L384.7 481.3 L385.2 481.8 L385.7 482.2 L386.2 482.7 L386.6 483.1 L387.1 479.1 L387.6 476.1 L388.1 473.7 L388.6 471.8 L389.1 470.3 L389.6 469.2 L390.1 468.4 L390.6 467.7 L391.1 467.2 L391.5 466.9 L392 466.6 L392.5 466.5 L393 466.4 L393.5 466.5 L394 466.5 L394.5 466.7 L395 466.9 L395.5 467.1 L395.9 467.4 L396.4 467.7 L396.9 468.1 L397.4 468.4 L397.9 468.8 L398.4 469.2 L398.9 469.6 L399.4 470 L399.9 470.5 L400.3 470.9 L400.8 471.3 L401.3 471.7 L401.8 472.2 L402.3 472.6 L402.8 473 L403.3 473.5 L403.8 473.9 L404.3 474.3 L404.8 474.8 L405.2 475.2 L405.7 475.7 L406.2 476.1 L406.7 476.5 L407.2 477 L407.7 477.4 L408.2 477.8 L408.7 478.3 L409.2 478.7 L409.6 479.2 L410.1 479.6 L410.6 480 L411.1 480.5 L411.6 480.9 L412.1 481.4 L412.6 481.8 L413.1 482.2 L413.6 482.7 L414.1 483.1 L414.5 479.1 L415 476.1 L415.5 473.7 L416 471.8 L416.5 470.4 L417 469.3 L417.5 468.4 L418 467.8 L418.5 467.3 L418.9 466.9 L419.4 466.7 L419.9 466.5 L420.4 466.5 L420.9 466.5 L421.4 466.6 L421.9 466.7 L422.4 466.9 L422.9 467.2 L423.3 467.5 L423.8 467.8 L424.3 468.1 L424.8 468.5 L425.3 468.9 L425.8 469.3 L426.3 469.7 L426.8 470.1 L427.3 470.5 L427.8 470.9 L428.2 471.3 L428.7 471.8 L429.2 472.2 L429.7 472.6 L430.2 473.1 L430.7 473.5 L431.2 473.9 L431.7 474.4 L432.2 474.8 L432.6 475.2 L433.1 475.7 L433.6 476.1 L434.1 476.6 L434.6 477 L435.1 477.4 L435.6 477.9 L436.1 478.3 L436.6 478.7 L437 479.2 L437.5 479.6 L438 480 L438.5 480.5 L439 480.9 L439.5 481.4 L440 481.8 L440.5 482.2 L441 482.7 L441.4 483.1" fill="none" stroke="#0f3552" stroke-width="1.4" stroke-linejoin="round"/>
<line x1="85.2" x2="85.2" y1="546.8" y2="448.5" stroke="#1a3f60" stroke-width="1.2"/>
<line x1="67" x2="459.5" y1="515.5" y2="515.5" stroke="#c9504e" stroke-width="1.8"/>
<rect x="67" y="385.5" width="392.5" height="169.5" fill="none" stroke="#757575" stroke-width="1"/>
<line x1="85.2" x2="85.2" y1="555" y2="557" stroke="#444" stroke-width="0.6"/>
<text class="tk2" x="85.2" y="561.7" text-anchor="middle">0</text>
<line x1="112.7" x2="112.7" y1="555" y2="557" stroke="#444" stroke-width="0.6"/>
<text class="tk2" x="112.7" y="561.7" text-anchor="middle">28</text>
<line x1="140.1" x2="140.1" y1="555" y2="557" stroke="#444" stroke-width="0.6"/>
<text class="tk2" x="140.1" y="561.7" text-anchor="middle">56</text>
<line x1="167.4" x2="167.4" y1="555" y2="557" stroke="#444" stroke-width="0.6"/>
<text class="tk2" x="167.4" y="561.7" text-anchor="middle">84</text>
<line x1="194.8" x2="194.8" y1="555" y2="557" stroke="#444" stroke-width="0.6"/>
<text class="tk2" x="194.8" y="561.7" text-anchor="middle">112</text>
<line x1="222.2" x2="222.2" y1="555" y2="557" stroke="#444" stroke-width="0.6"/>
<text class="tk2" x="222.2" y="561.7" text-anchor="middle">140</text>
<line x1="249.7" x2="249.7" y1="555" y2="557" stroke="#444" stroke-width="0.6"/>
<text class="tk2" x="249.7" y="561.7" text-anchor="middle">168</text>
<line x1="277" x2="277" y1="555" y2="557" stroke="#444" stroke-width="0.6"/>
<text class="tk2" x="277" y="561.7" text-anchor="middle">196</text>
<line x1="304.4" x2="304.4" y1="555" y2="557" stroke="#444" stroke-width="0.6"/>
<text class="tk2" x="304.4" y="561.7" text-anchor="middle">224</text>
<line x1="331.9" x2="331.9" y1="555" y2="557" stroke="#444" stroke-width="0.6"/>
<text class="tk2" x="331.9" y="561.7" text-anchor="middle">252</text>
<line x1="359.2" x2="359.2" y1="555" y2="557" stroke="#444" stroke-width="0.6"/>
<text class="tk2" x="359.2" y="561.7" text-anchor="middle">280</text>
<line x1="386.6" x2="386.6" y1="555" y2="557" stroke="#444" stroke-width="0.6"/>
<text class="tk2" x="386.6" y="561.7" text-anchor="middle">308</text>
<line x1="414.1" x2="414.1" y1="555" y2="557" stroke="#444" stroke-width="0.6"/>
<text class="tk2" x="414.1" y="561.7" text-anchor="middle">336</text>
<line x1="441.4" x2="441.4" y1="555" y2="557" stroke="#444" stroke-width="0.6"/>
<text class="tk2" x="441.4" y="561.7" text-anchor="middle">364</text>
<line x1="65" x2="67" y1="546.8" y2="546.8" stroke="#444" stroke-width="0.6"/>
<text class="tk2" x="64" y="548.5" text-anchor="end">0</text>
<line x1="65" x2="67" y1="515.5" y2="515.5" stroke="#444" stroke-width="0.6"/>
<text class="tk2" x="64" y="517.2" text-anchor="end">100</text>
<line x1="65" x2="67" y1="484.4" y2="484.4" stroke="#444" stroke-width="0.6"/>
<text class="tk2" x="64" y="486.1" text-anchor="end">200</text>
<line x1="65" x2="67" y1="453.1" y2="453.1" stroke="#444" stroke-width="0.6"/>
<text class="tk2" x="64" y="454.8" text-anchor="end">300</text>
<line x1="65" x2="67" y1="421.9" y2="421.9" stroke="#444" stroke-width="0.6"/>
<text class="tk2" x="64" y="423.6" text-anchor="end">400</text>
<line x1="65" x2="67" y1="390.8" y2="390.8" stroke="#444" stroke-width="0.6"/>
<text class="tk2" x="64" y="392.4" text-anchor="end">500</text>
<text x="226.3" y="568.5" font-size="6.9" fill="#111" textLength="75" lengthAdjust="spacingAndGlyphs">Time after first dose (days)</text>
<text transform="translate(52.7 520) rotate(-90)" font-size="6.6" fill="#111" textLength="99" lengthAdjust="spacingAndGlyphs">Crovalimab concentration (µg/mL)</text>
<rect x="237" y="370.7" width="4.3" height="4.3" fill="#4f93c6"/>
<text x="245" y="375.1" font-size="5.6" font-weight="bold" fill="#555" textLength="18.7" lengthAdjust="spacingAndGlyphs">50% PI</text>
<rect x="267" y="370.7" width="4.3" height="4.3" fill="#b2cde6"/>
<text x="274.5" y="375.1" font-size="5.6" font-weight="bold" fill="#555" textLength="18.5" lengthAdjust="spacingAndGlyphs">90% PI</text>
</g>
<text class="cap" transform="translate(32.5 599.6) scale(1.0 1)" style="word-spacing:1.10px" textLength="450.5" lengthAdjust="spacing" xml:space="preserve">The red horizontal line represents the threshold of 100 µg/mL. The  solid curve represents the median</text>
<text class="cap" transform="translate(32.5 612.4) scale(1.0 1)" style="word-spacing:1.10px" textLength="405" lengthAdjust="spacing" xml:space="preserve">of the simulated population, the shaded areas represent the different  PI colored by PI level.</text>
<text class="cap" transform="translate(32.5 625.3) scale(1.0 1)" style="word-spacing:1.10px" textLength="294.5" lengthAdjust="spacing" xml:space="preserve">PI, prediction interval; PNH, paroxysmal nocturnal hemoglobinuria.</text>
</svg>
</body>
</html>
